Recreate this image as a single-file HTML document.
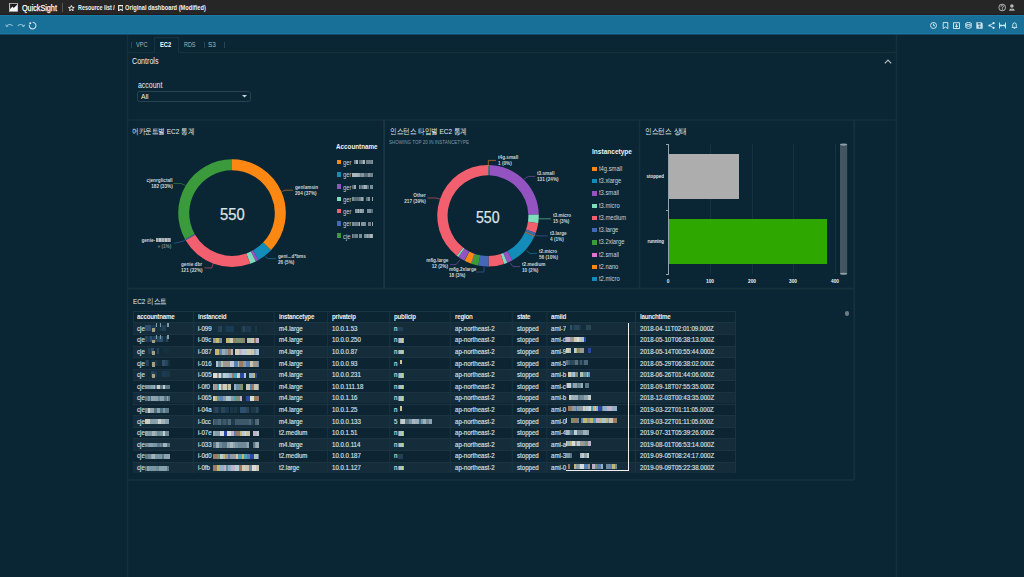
<!DOCTYPE html>
<html><head><meta charset="utf-8"><style>
*{margin:0;padding:0;box-sizing:border-box}
html,body{width:1024px;height:577px;overflow:hidden;background:#0a2634;font-family:"Liberation Sans",sans-serif;color:#e4e9ec}
body{position:relative}
.a{position:absolute}
.t{position:absolute;white-space:nowrap;line-height:1}
.hl{position:absolute;height:1px;background:#18323f}
.vl{position:absolute;width:1px;background:#18323f}
</style></head><body>
<div class="a" style="left:0;top:0;width:1024px;height:15px;background:#262626"></div><div class="a" style="left:0;top:14px;width:1024px;height:1px;background:#1e1c1c"></div><div class="a" style="left:0;top:15px;width:1024px;height:19px;background:#186f97"></div><div class="a" style="left:0;top:15px;width:1024px;height:1px;background:#1c7aa6"></div><div class="a" style="left:0;top:33px;width:1024px;height:1px;background:#1b75a0"></div><div class="a" style="left:0;top:34px;width:1024px;height:1px;background:#124c68"></div><svg class="a" style="left:8.9px;top:3px" width="8.8" height="8.6" viewBox="0 0 8.8 8.6"><rect width="8.8" height="8.6" fill="#f4f4f4"/><rect width="8.8" height="0.8" fill="#8c8c8c"/><rect width="1" height="8.6" fill="#b8b8b8"/><path d="M1.1,1.1 H8.1 V1.7 L7.1,2.7 L4.6,5.1 L3.6,3.5 L1.1,6.1Z" fill="#1c1c1c"/></svg><div id="m1" class="t" style="left:21.90px;top:4.00px;font-size:8.8px;color:#ffffff;transform:scaleX(0.8203);transform-origin:left 0;-webkit-text-stroke:0.25px #fff">QuickSight</div><div class="a" style="left:62px;top:3.1px;width:0.8px;height:9px;background:#555"></div><svg class="a" style="left:68.2px;top:4.6px" width="6.8" height="6.2" viewBox="0 0 10 9.2"><path d="M5,0.7 L6.2,3.4 L9.2,3.6 L6.9,5.5 L7.7,8.5 L5,6.9 L2.3,8.5 L3.1,5.5 L0.8,3.6 L3.8,3.4Z" fill="none" stroke="#fff" stroke-width="1.3"/></svg><div id="m2" class="t" style="left:77.70px;top:5.00px;font-size:6.93px;color:#f2f2f2;font-weight:bold;transform:scaleX(0.7796);transform-origin:left 0;">Resource list</div><div id="m3" class="t" style="left:113.40px;top:5.00px;font-size:6.93px;color:#f2f2f2;font-weight:bold;transform:scaleX(0.9091);transform-origin:left 0;">/</div><svg class="a" style="left:117.9px;top:5px" width="5.6" height="6.2" viewBox="0 0 5.6 6.2"><path d="M0.6,0.6 H5 V5.7 L2.8,4.3 L0.6,5.7Z" fill="none" stroke="#eee" stroke-width="1.1"/></svg><div id="m4" class="t" style="left:125.30px;top:5.00px;font-size:6.93px;color:#f2f2f2;font-weight:bold;transform:scaleX(0.8207);transform-origin:left 0;">Original dashboard (Modified)</div><svg class="a" style="left:996px;top:2px" width="24" height="12" viewBox="0 0 24 12"><circle cx="6.2" cy="5.5" r="3.7" fill="#a3a3a3"/><circle cx="6.2" cy="5.5" r="2.7" fill="#2e2e2e"/><path d="M4.9,4.6 Q5.2,3.3 6.4,3.4 Q7.6,3.6 7.4,4.7 Q7.2,5.4 6.3,5.8 V6.6" fill="none" stroke="#b0b0b0" stroke-width="1"/><circle cx="6.3" cy="7.6" r="0.55" fill="#b0b0b0"/><circle cx="15.9" cy="4.1" r="1.75" fill="#b8b8b8"/><path d="M12.9,8.8 Q13.3,6.2 15.9,6.2 Q18.5,6.2 18.9,8.8 Z" fill="#b0b0b0"/><path d="M15.2,6.3 L15.9,7.4 L16.6,6.3Z" fill="#262626"/></svg><svg class="a" style="left:0;top:15px" width="40" height="20" viewBox="0 0 40 20"><path d="M6.6,11.2 Q9.4,8 12.6,10.8" fill="none" stroke="#8dbdd6" stroke-width="1.1"/><path d="M5.8,9.6 L6.4,11.6 L8.3,11" fill="none" stroke="#8dbdd6" stroke-width="1"/><path d="M17.8,10.8 Q21,8 24,11.2" fill="none" stroke="#8dbdd6" stroke-width="1.1"/><path d="M22.1,11 L24,11.6 L24.6,9.6" fill="none" stroke="#8dbdd6" stroke-width="1"/><path d="M32.6,7.2 A3.35,3.35 0 1 1 29.35,9.7" fill="none" stroke="#c4dbe7" stroke-width="1.1"/><circle cx="30.3" cy="8.2" r="0.95" fill="#f4f9fb"/></svg><svg class="a" style="left:930.0px;top:21.5px" width="7" height="7" viewBox="0 0 7 7"><circle cx="3.5" cy="3.5" r="3" fill="none" stroke="#dfeef5" stroke-width="0.9"/><path d="M3.5,1.6 V3.7 H5" fill="none" stroke="#dfeef5" stroke-width="0.9"/></svg><svg class="a" style="left:941.5px;top:21.5px" width="7" height="7" viewBox="0 0 7 7"><path d="M1.2,0.6 H5.8 V6.6 L3.5,5 L1.2,6.6Z" fill="none" stroke="#dfeef5" stroke-width="0.9"/></svg><svg class="a" style="left:953.25px;top:21.5px" width="7" height="7" viewBox="0 0 7 7"><path d="M0.5,0.7 H6.5 V6.5 H0.5Z" fill="none" stroke="#dfeef5" stroke-width="0.9"/><path d="M3.5,1.8 V5.2 M2,3.8 L3.5,5.2 L5,3.8" fill="none" stroke="#dfeef5" stroke-width="0.9"/></svg><svg class="a" style="left:965.0px;top:21.5px" width="7" height="7" viewBox="0 0 7 7"><ellipse cx="3.5" cy="1.5" rx="2.7" ry="1" fill="none" stroke="#dfeef5" stroke-width="0.9"/><path d="M0.8,1.5 V5.6 Q3.5,7.3 6.2,5.6 V1.5 M0.8,3.5 Q3.5,5 6.2,3.5" fill="none" stroke="#dfeef5" stroke-width="0.9"/></svg><svg class="a" style="left:976.25px;top:21.5px" width="7" height="7" viewBox="0 0 7 7"><path d="M0.3,0.3 H5.5 L6.7,1.5 V6.7 H0.3Z" fill="#cfe1ea"/><rect x="1.8" y="0.9" width="2.8" height="1.8" fill="#2a7aa2"/><circle cx="3.6" cy="4.6" r="1.1" fill="#2a7aa2"/></svg><svg class="a" style="left:987.75px;top:21.5px" width="7" height="7" viewBox="0 0 7 7"><circle cx="1.4" cy="3.5" r="1.1" fill="#dfeef5"/><circle cx="5.6" cy="1.2" r="1.1" fill="#dfeef5"/><circle cx="5.6" cy="5.8" r="1.1" fill="#dfeef5"/><path d="M1.4,3.5 L5.6,1.2 M1.4,3.5 L5.6,5.8" stroke="#dfeef5" stroke-width="0.8"/></svg><svg class="a" style="left:999.0px;top:21.5px" width="7" height="7" viewBox="0 0 7 7"><path d="M0.5,0.5 V6.5 M6.5,0.5 V6.5 M1,3.5 H6 M2.3,2.2 L1,3.5 L2.3,4.8 M4.7,2.2 L6,3.5 L4.7,4.8" fill="none" stroke="#dfeef5" stroke-width="0.9"/></svg><svg class="a" style="left:1010.75px;top:21.5px" width="7" height="7" viewBox="0 0 7 7"><path d="M1,5.4 H6 L5.3,4.4 V2.8 Q5.3,0.9 3.5,0.9 Q1.7,0.9 1.7,2.8 V4.4Z" fill="none" stroke="#dfeef5" stroke-width="0.9"/><path d="M2.8,6.3 H4.2" stroke="#dfeef5" stroke-width="0.9"/></svg><svg class="a" style="left:0;top:0" width="1024" height="577"><rect x="126.9" y="35" width="1.3" height="542" fill="#17303d"/><rect x="895.8" y="35" width="1.4" height="542" fill="#17303d"/><rect x="128" y="51.9" width="768" height="1.2" fill="#17303d"/><rect x="128" y="119.3" width="768" height="1.4" fill="#17303d"/><rect x="383.1" y="120" width="1.9" height="168" fill="#1c3542"/><rect x="638.8" y="120" width="1.4" height="168" fill="#17303d"/><rect x="853.4" y="120" width="1.7" height="360" fill="#17303d"/><rect x="128" y="287.7" width="726" height="1.8" fill="#17303d"/><rect x="128" y="479.2" width="726" height="1.6" fill="#17303d"/></svg><div class="a" style="left:154.3px;top:36.6px;width:24.9px;height:16.4px;border:1px solid #18323f;border-bottom:none;background:#0a2634"></div><div class="a" style="left:130.5px;top:41.5px;width:1px;height:6px;background:#2a4452"></div><div class="a" style="left:203.5px;top:41.5px;width:1px;height:6px;background:#2a4452"></div><div class="a" style="left:223.5px;top:41.5px;width:1px;height:6px;background:#2a4452"></div><div id="m5" class="t" style="left:136.00px;top:41.00px;font-size:7.26px;color:#a9b6bd;transform:scaleX(0.7774);transform-origin:left 0;">VPC</div><div id="m6" class="t" style="left:160.30px;top:41.00px;font-size:7.26px;color:#ffffff;font-weight:bold;transform:scaleX(0.7938);transform-origin:left 0;">EC2</div><div id="m7" class="t" style="left:183.90px;top:41.00px;font-size:7.26px;color:#a9b6bd;transform:scaleX(0.7510);transform-origin:left 0;">RDS</div><div id="m8" class="t" style="left:208.00px;top:41.00px;font-size:7.26px;color:#a9b6bd;transform:scaleX(0.8789);transform-origin:left 0;">S3</div><div id="m9" class="t" style="left:131.80px;top:57.00px;font-size:8.91px;color:#f0f3f5;transform:scaleX(0.7989);transform-origin:left 0;">Controls</div><svg class="a" style="left:883.8px;top:58.8px" width="8" height="5" viewBox="0 0 8 5"><path d="M0.8,4.3 L4,1.1 L7.2,4.3" fill="none" stroke="#b3bec4" stroke-width="1.2"/></svg><div id="m10" class="t" style="left:137.80px;top:82.00px;font-size:8.25px;color:#e9eef0;transform:scaleX(0.8441);transform-origin:left 0;">account</div><div class="a" style="left:137.3px;top:90.6px;width:113.5px;height:11.6px;border:1px solid #2a4350;border-radius:2.5px"></div><div id="m11" class="t" style="left:141.40px;top:94.00px;font-size:6.6px;color:#e9eef0;transform:scaleX(1.0235);transform-origin:left 0;">All</div><svg class="a" style="left:241.5px;top:95.3px" width="5" height="3" viewBox="0 0 5 3"><path d="M0,0 H5 L2.5,2.6Z" fill="#c9d1d5"/></svg><div id="m12" class="t" style="left:132.40px;top:128.00px;font-size:7.8px;color:#e9eef0;transform:scaleX(0.8252);transform-origin:left 0;">어카운트별 EC2 통계</div><div id="m13" class="t" style="left:389.50px;top:128.00px;font-size:7.8px;color:#e9eef0;transform:scaleX(0.8220);transform-origin:left 0;">인스턴스 타입별 EC2 통계</div><div id="m14" class="t" style="left:389.30px;top:140.00px;font-size:5.06px;color:#7f99a6;transform:scaleX(0.8951);transform-origin:left 0;">SHOWING TOP 20 IN INSTANCETYPE</div><div id="m15" class="t" style="left:645.00px;top:128.00px;font-size:7.8px;color:#e9eef0;transform:scaleX(0.8371);transform-origin:left 0;">인스턴스 상태</div><svg class="a" style="left:0;top:0" width="1024" height="577" viewBox="0 0 1024 577"><path d="M232.00,159.30A53.8,53.8 0 0 1 271.01,250.15L263.03,242.58A42.8,42.8 0 0 0 232.00,170.30Z" fill="#fd8713"/><path d="M271.01,250.15A53.8,53.8 0 0 1 258.46,259.95L253.05,250.37A42.8,42.8 0 0 0 263.03,242.58Z" fill="#138cba"/><path d="M258.46,259.95A53.8,53.8 0 0 1 255.74,261.38L250.88,251.51A42.8,42.8 0 0 0 253.05,250.37Z" fill="#9354c2"/><path d="M255.74,261.38A53.8,53.8 0 0 1 250.08,263.77L246.38,253.41A42.8,42.8 0 0 0 250.88,251.51Z" fill="#7fdcbc"/><path d="M250.08,263.77A53.8,53.8 0 0 1 185.61,240.35L195.10,234.78A42.8,42.8 0 0 0 246.38,253.41Z" fill="#f25f6f"/><path d="M185.61,240.35A53.8,53.8 0 0 1 185.00,239.29L194.61,233.93A42.8,42.8 0 0 0 195.10,234.78Z" fill="#4468b7"/><path d="M185.00,239.29A53.8,53.8 0 0 1 232.00,159.30L232.00,170.30A42.8,42.8 0 0 0 194.61,233.93Z" fill="#3a9a3c"/><path d="M488.00,164.90A50.8,50.8 0 0 1 488.58,164.90L488.46,175.30A40.4,40.4 0 0 0 488.00,175.30Z" fill="#fd8713"/><path d="M488.58,164.90A50.8,50.8 0 0 1 489.74,164.93L489.38,175.32A40.4,40.4 0 0 0 488.46,175.30Z" fill="#138cba"/><path d="M489.74,164.93A50.8,50.8 0 0 1 538.79,214.54L528.39,214.78A40.4,40.4 0 0 0 489.38,175.32Z" fill="#9354c2"/><path d="M538.79,214.54A50.8,50.8 0 0 1 538.24,223.22L527.96,221.68A40.4,40.4 0 0 0 528.39,214.78Z" fill="#7fdcbc"/><path d="M538.24,223.22A50.8,50.8 0 0 1 535.75,233.04L525.97,229.49A40.4,40.4 0 0 0 527.96,221.68Z" fill="#f25f6f"/><path d="M535.75,233.04A50.8,50.8 0 0 1 534.91,235.21L525.30,231.21A40.4,40.4 0 0 0 525.97,229.49Z" fill="#4468b7"/><path d="M534.91,235.21A50.8,50.8 0 0 1 534.68,235.74L525.12,231.64A40.4,40.4 0 0 0 525.30,231.21Z" fill="#3a9a3c"/><path d="M534.68,235.74A50.8,50.8 0 0 1 534.45,236.27L524.94,232.06A40.4,40.4 0 0 0 525.12,231.64Z" fill="#e274d0"/><path d="M534.45,236.27A50.8,50.8 0 0 1 534.21,236.80L524.75,232.48A40.4,40.4 0 0 0 524.94,232.06Z" fill="#fd8713"/><path d="M534.21,236.80A50.8,50.8 0 0 1 512.47,260.22L507.46,251.10A40.4,40.4 0 0 0 524.75,232.48Z" fill="#138cba"/><path d="M512.47,260.22A50.8,50.8 0 0 1 507.24,262.72L503.30,253.09A40.4,40.4 0 0 0 507.46,251.10Z" fill="#9354c2"/><path d="M507.24,262.72A50.8,50.8 0 0 1 503.97,263.92L500.70,254.05A40.4,40.4 0 0 0 503.30,253.09Z" fill="#7fdcbc"/><path d="M503.97,263.92A50.8,50.8 0 0 1 488.58,266.50L488.46,256.10A40.4,40.4 0 0 0 500.70,254.05Z" fill="#f25f6f"/><path d="M488.58,266.50A50.8,50.8 0 0 1 478.20,265.55L480.20,255.34A40.4,40.4 0 0 0 488.46,256.10Z" fill="#4468b7"/><path d="M478.20,265.55A50.8,50.8 0 0 1 471.48,263.74L474.86,253.90A40.4,40.4 0 0 0 480.20,255.34Z" fill="#3a9a3c"/><path d="M471.48,263.74A50.8,50.8 0 0 1 470.93,263.55L474.42,253.75A40.4,40.4 0 0 0 474.86,253.90Z" fill="#e274d0"/><path d="M470.93,263.55A50.8,50.8 0 0 1 464.55,260.76L469.35,251.54A40.4,40.4 0 0 0 474.42,253.75Z" fill="#fd8713"/><path d="M464.55,260.76A50.8,50.8 0 0 1 464.24,260.60L469.11,251.41A40.4,40.4 0 0 0 469.35,251.54Z" fill="#138cba"/><path d="M464.24,260.60A50.8,50.8 0 0 1 458.33,256.93L464.40,248.49A40.4,40.4 0 0 0 469.11,251.41Z" fill="#9354c2"/><path d="M458.33,256.93A50.8,50.8 0 0 1 456.75,255.75L463.15,247.55A40.4,40.4 0 0 0 464.40,248.49Z" fill="#7fdcbc"/><path d="M456.75,255.75A50.8,50.8 0 0 1 488.00,164.90L488.00,175.30A40.4,40.4 0 0 0 463.15,247.55Z" fill="#f25f6f"/><polyline points="185.5,185.5 181,183.5 173.5,183.5" fill="none" stroke="#3a9a3c" stroke-width="0.8" stroke-opacity="0.7"/><polyline points="185.6,239.6 183,241.2 180,242 173.6,243.4" fill="none" stroke="#4468b7" stroke-width="0.8" stroke-opacity="0.7"/><polyline points="282.4,191.5 285,190.2 293,190.2" fill="none" stroke="#fd8713" stroke-width="0.8" stroke-opacity="0.7"/><polyline points="265.2,256.7 268,258.6 276,258.6" fill="none" stroke="#138cba" stroke-width="0.8" stroke-opacity="0.7"/><polyline points="213.3,263.4 211.8,267.9 204.5,267.9" fill="none" stroke="#f25f6f" stroke-width="0.8" stroke-opacity="0.7"/><polyline points="488.3,166 488.3,160.4 496,160.4" fill="none" stroke="#fd8713" stroke-width="0.8" stroke-opacity="0.7"/><polyline points="524.2,179 528.5,176.4 535.4,176.4" fill="none" stroke="#9354c2" stroke-width="0.8" stroke-opacity="0.7"/><polyline points="538.9,218.8 551,218.8" fill="none" stroke="#7fdcbc" stroke-width="0.8" stroke-opacity="0.7"/><polyline points="535.2,235.1 538,235.9 548,235.9" fill="none" stroke="#4468b7" stroke-width="0.8" stroke-opacity="0.7"/><polyline points="526.4,250.5 530,253.4 537,253.4" fill="none" stroke="#138cba" stroke-width="0.8" stroke-opacity="0.7"/><polyline points="510.3,263 513,266.6 520,266.6" fill="none" stroke="#9354c2" stroke-width="0.8" stroke-opacity="0.7"/><polyline points="484,267.4 484,272 476,272" fill="none" stroke="#4468b7" stroke-width="0.8" stroke-opacity="0.7"/><polyline points="460,260 456,264.6 450,264.6" fill="none" stroke="#9354c2" stroke-width="0.8" stroke-opacity="0.7"/><polyline points="440.3,199.1 436,198 427.4,198" fill="none" stroke="#f25f6f" stroke-width="0.8" stroke-opacity="0.7"/></svg><div id="m16" class="t" style="left:219.80px;top:207.00px;font-size:15.6px;color:#dde3e7;transform:scaleX(0.9450);transform-origin:left 0;-webkit-text-stroke:0.25px #dde3e7">550</div><div id="m17" class="t" style="left:476.20px;top:210.00px;font-size:15.6px;color:#dde3e7;transform:scaleX(0.9066);transform-origin:left 0;-webkit-text-stroke:0.25px #dde3e7">550</div><div id="m18" class="t" style="right:851.00px;top:178.00px;font-size:5.17px;color:#cdd5d9;font-weight:bold;transform:scaleX(0.9091);transform-origin:right 0;">cjenrglictall</div><div id="m19" class="t" style="right:851.00px;top:184.00px;font-size:5.17px;color:#cdd5d9;font-weight:bold;transform:scaleX(0.9091);transform-origin:right 0;">182 (33%)</div><div id="m20" class="t" style="right:869.00px;top:238.00px;font-size:5.17px;color:#cdd5d9;font-weight:bold;transform:scaleX(0.9091);transform-origin:right 0;">genie-</div><div class="a" style="left:155.7px;top:237.6px;width:15.5px;height:4.6px;background:repeating-linear-gradient(90deg,#a7b1b6 0 2px,#7f8d95 2px 3px,#b9c1c5 3px 5px,#8d9aa1 5px 6px)"></div><div id="m21" class="t" style="right:852.80px;top:244.00px;font-size:5.17px;color:#7d8b93;font-weight:bold;transform:scaleX(0.9091);transform-origin:right 0;">+ (1%)</div><div id="m22" class="t" style="left:295.00px;top:185.00px;font-size:5.17px;color:#cdd5d9;font-weight:bold;transform:scaleX(0.9091);transform-origin:left 0;">genlamsin</div><div id="m23" class="t" style="left:295.00px;top:191.00px;font-size:5.17px;color:#cdd5d9;font-weight:bold;transform:scaleX(0.9091);transform-origin:left 0;">204 (37%)</div><div id="m24" class="t" style="left:277.60px;top:254.00px;font-size:5.17px;color:#cdd5d9;font-weight:bold;transform:scaleX(0.9091);transform-origin:left 0;">geni...d*bms</div><div id="m25" class="t" style="left:277.60px;top:260.00px;font-size:5.17px;color:#cdd5d9;font-weight:bold;transform:scaleX(0.9091);transform-origin:left 0;">26 (5%)</div><div id="m26" class="t" style="left:180.50px;top:262.00px;font-size:5.17px;color:#cdd5d9;font-weight:bold;transform:scaleX(0.9091);transform-origin:left 0;">genie dbr</div><div id="m27" class="t" style="left:180.50px;top:268.00px;font-size:5.17px;color:#cdd5d9;font-weight:bold;transform:scaleX(0.9091);transform-origin:left 0;">121 (22%)</div><div id="m28" class="t" style="left:498.20px;top:155.00px;font-size:5.17px;color:#cdd5d9;font-weight:bold;transform:scaleX(0.9091);transform-origin:left 0;">t4g.small</div><div id="m29" class="t" style="left:498.20px;top:161.00px;font-size:5.17px;color:#cdd5d9;font-weight:bold;transform:scaleX(0.9091);transform-origin:left 0;">1 (0%)</div><div id="m30" class="t" style="left:537.20px;top:171.00px;font-size:5.17px;color:#cdd5d9;font-weight:bold;transform:scaleX(0.9091);transform-origin:left 0;">t3.small</div><div id="m31" class="t" style="left:537.20px;top:177.00px;font-size:5.17px;color:#cdd5d9;font-weight:bold;transform:scaleX(0.9091);transform-origin:left 0;">131 (24%)</div><div id="m32" class="t" style="left:552.80px;top:213.00px;font-size:5.17px;color:#cdd5d9;font-weight:bold;transform:scaleX(0.9091);transform-origin:left 0;">t3.micro</div><div id="m33" class="t" style="left:552.80px;top:219.00px;font-size:5.17px;color:#cdd5d9;font-weight:bold;transform:scaleX(0.9091);transform-origin:left 0;">15 (3%)</div><div id="m34" class="t" style="left:550.00px;top:231.00px;font-size:5.17px;color:#cdd5d9;font-weight:bold;transform:scaleX(0.9091);transform-origin:left 0;">t3.large</div><div id="m35" class="t" style="left:550.00px;top:237.00px;font-size:5.17px;color:#cdd5d9;font-weight:bold;transform:scaleX(0.9091);transform-origin:left 0;">4 (1%)</div><div id="m36" class="t" style="left:538.90px;top:249.00px;font-size:5.17px;color:#cdd5d9;font-weight:bold;transform:scaleX(0.9091);transform-origin:left 0;">t2.micro</div><div id="m37" class="t" style="left:538.90px;top:255.00px;font-size:5.17px;color:#cdd5d9;font-weight:bold;transform:scaleX(0.9091);transform-origin:left 0;">56 (10%)</div><div id="m38" class="t" style="left:522.00px;top:262.00px;font-size:5.17px;color:#cdd5d9;font-weight:bold;transform:scaleX(0.9091);transform-origin:left 0;">t2.medium</div><div id="m39" class="t" style="left:522.00px;top:268.00px;font-size:5.17px;color:#cdd5d9;font-weight:bold;transform:scaleX(0.9091);transform-origin:left 0;">10 (2%)</div><div id="m40" class="t" style="right:575.50px;top:258.00px;font-size:5.17px;color:#cdd5d9;font-weight:bold;transform:scaleX(0.9091);transform-origin:right 0;">m6g.large</div><div id="m41" class="t" style="right:575.50px;top:264.00px;font-size:5.17px;color:#cdd5d9;font-weight:bold;transform:scaleX(0.9091);transform-origin:right 0;">12 (2%)</div><div id="m42" class="t" style="left:449.00px;top:267.00px;font-size:5.17px;color:#cdd5d9;font-weight:bold;transform:scaleX(0.9091);transform-origin:left 0;">m6g.2xlarge</div><div id="m43" class="t" style="left:449.00px;top:273.00px;font-size:5.17px;color:#cdd5d9;font-weight:bold;transform:scaleX(0.9091);transform-origin:left 0;">18 (3%)</div><div id="m44" class="t" style="right:598.40px;top:193.00px;font-size:5.17px;color:#cdd5d9;font-weight:bold;transform:scaleX(0.9091);transform-origin:right 0;">Other</div><div id="m45" class="t" style="right:598.40px;top:199.00px;font-size:5.17px;color:#cdd5d9;font-weight:bold;transform:scaleX(0.9091);transform-origin:right 0;">217 (39%)</div><div id="m46" class="t" style="left:336.40px;top:144.00px;font-size:6.93px;color:#eef2f4;font-weight:bold;transform:scaleX(0.9087);transform-origin:left 0;">Accountname</div><div class="a" style="left:336.8px;top:159.8px;width:4.5px;height:4.5px;background:#fd8713"></div><div id="m47" class="t" style="left:343.30px;top:160.00px;font-size:6.49px;color:#c6cfd4;transform:scaleX(0.9091);transform-origin:left 0;">ger</div><div class="a" style="left:353.5px;top:160.4px;width:2px;height:4px;background:#6f808a"></div><div class="a" style="left:355.5px;top:160.4px;width:2.5px;height:4px;background:#aab6bc"></div><div class="a" style="left:359.0px;top:160.4px;width:1.5px;height:4px;background:#5a6c77"></div><div class="a" style="left:360.5px;top:160.4px;width:2px;height:4px;background:#6f808a"></div><div class="a" style="left:362.5px;top:160.4px;width:2.5px;height:4px;background:#aab6bc"></div><div class="a" style="left:366.0px;top:160.4px;width:3px;height:4px;background:#6f808a"></div><div class="a" style="left:369.0px;top:160.4px;width:2.5px;height:4px;background:#6f808a"></div><div class="a" style="left:371.5px;top:160.4px;width:1.0px;height:4px;background:#85959e"></div><div class="a" style="left:336.8px;top:172.1px;width:4.5px;height:4.5px;background:#138cba"></div><div id="m48" class="t" style="left:343.30px;top:172.00px;font-size:6.49px;color:#c6cfd4;transform:scaleX(0.9091);transform-origin:left 0;">ger</div><div class="a" style="left:351.5px;top:172.65px;width:2px;height:4px;background:#aab6bc"></div><div class="a" style="left:353.5px;top:172.65px;width:1px;height:4px;background:#aab6bc"></div><div class="a" style="left:354.5px;top:172.65px;width:3px;height:4px;background:#aab6bc"></div><div class="a" style="left:357.5px;top:172.65px;width:2.5px;height:4px;background:#9aa8b0"></div><div class="a" style="left:360.0px;top:172.65px;width:1px;height:4px;background:#6f808a"></div><div class="a" style="left:361.0px;top:172.65px;width:2.5px;height:4px;background:#85959e"></div><div class="a" style="left:363.5px;top:172.65px;width:2px;height:4px;background:#5a6c77"></div><div class="a" style="left:365.5px;top:172.65px;width:2px;height:4px;background:#5a6c77"></div><div class="a" style="left:367.5px;top:172.65px;width:2px;height:4px;background:#85959e"></div><div class="a" style="left:369.5px;top:172.65px;width:3px;height:4px;background:#6f808a"></div><div class="a" style="left:336.8px;top:184.3px;width:4.5px;height:4.5px;background:#9354c2"></div><div id="m49" class="t" style="left:343.30px;top:185.00px;font-size:6.49px;color:#c6cfd4;transform:scaleX(0.9091);transform-origin:left 0;">ger</div><div class="a" style="left:351.5px;top:184.9px;width:2.5px;height:4px;background:#5a6c77"></div><div class="a" style="left:354.0px;top:184.9px;width:2px;height:4px;background:#9aa8b0"></div><div class="a" style="left:358.5px;top:184.9px;width:1px;height:4px;background:#85959e"></div><div class="a" style="left:359.5px;top:184.9px;width:2px;height:4px;background:#5a6c77"></div><div class="a" style="left:361.5px;top:184.9px;width:2px;height:4px;background:#77909b"></div><div class="a" style="left:363.5px;top:184.9px;width:1px;height:4px;background:#aab6bc"></div><div class="a" style="left:364.5px;top:184.9px;width:2px;height:4px;background:#9aa8b0"></div><div class="a" style="left:366.5px;top:184.9px;width:2.5px;height:4px;background:#5a6c77"></div><div class="a" style="left:370.0px;top:184.9px;width:2px;height:4px;background:#77909b"></div><div class="a" style="left:372.0px;top:184.9px;width:0.5px;height:4px;background:#77909b"></div><div class="a" style="left:336.8px;top:196.6px;width:4.5px;height:4.5px;background:#7fdcbc"></div><div id="m50" class="t" style="left:343.30px;top:197.00px;font-size:6.49px;color:#c6cfd4;transform:scaleX(0.9091);transform-origin:left 0;">ger</div><div class="a" style="left:351.5px;top:197.15px;width:2px;height:4px;background:#77909b"></div><div class="a" style="left:353.5px;top:197.15px;width:2px;height:4px;background:#5a6c77"></div><div class="a" style="left:355.5px;top:197.15px;width:3px;height:4px;background:#5a6c77"></div><div class="a" style="left:358.5px;top:197.15px;width:2px;height:4px;background:#6f808a"></div><div class="a" style="left:360.5px;top:197.15px;width:2px;height:4px;background:#9aa8b0"></div><div class="a" style="left:362.5px;top:197.15px;width:1.5px;height:4px;background:#5a6c77"></div><div class="a" style="left:366.0px;top:197.15px;width:2px;height:4px;background:#5a6c77"></div><div class="a" style="left:368.0px;top:197.15px;width:2px;height:4px;background:#85959e"></div><div class="a" style="left:372.0px;top:197.15px;width:0.5px;height:4px;background:#9aa8b0"></div><div class="a" style="left:336.8px;top:208.8px;width:4.5px;height:4.5px;background:#f25f6f"></div><div id="m51" class="t" style="left:343.30px;top:209.00px;font-size:6.49px;color:#c6cfd4;transform:scaleX(0.9091);transform-origin:left 0;">ger</div><div class="a" style="left:354.5px;top:209.4px;width:1.5px;height:4px;background:#85959e"></div><div class="a" style="left:356.0px;top:209.4px;width:1.5px;height:4px;background:#85959e"></div><div class="a" style="left:357.5px;top:209.4px;width:1px;height:4px;background:#aab6bc"></div><div class="a" style="left:358.5px;top:209.4px;width:1.5px;height:4px;background:#6f808a"></div><div class="a" style="left:360.0px;top:209.4px;width:1.5px;height:4px;background:#9aa8b0"></div><div class="a" style="left:361.5px;top:209.4px;width:2.5px;height:4px;background:#85959e"></div><div class="a" style="left:367.0px;top:209.4px;width:2.5px;height:4px;background:#77909b"></div><div class="a" style="left:369.5px;top:209.4px;width:1px;height:4px;background:#77909b"></div><div class="a" style="left:370.5px;top:209.4px;width:2.0px;height:4px;background:#5a6c77"></div><div class="a" style="left:336.8px;top:221.1px;width:4.5px;height:4.5px;background:#4468b7"></div><div id="m52" class="t" style="left:343.30px;top:221.00px;font-size:6.49px;color:#c6cfd4;transform:scaleX(0.9091);transform-origin:left 0;">ger</div><div class="a" style="left:351.5px;top:221.65px;width:2px;height:4px;background:#77909b"></div><div class="a" style="left:353.5px;top:221.65px;width:2px;height:4px;background:#6f808a"></div><div class="a" style="left:355.5px;top:221.65px;width:1.5px;height:4px;background:#6f808a"></div><div class="a" style="left:357.0px;top:221.65px;width:2px;height:4px;background:#6f808a"></div><div class="a" style="left:359.0px;top:221.65px;width:1px;height:4px;background:#aab6bc"></div><div class="a" style="left:361.0px;top:221.65px;width:2.5px;height:4px;background:#85959e"></div><div class="a" style="left:363.5px;top:221.65px;width:2.5px;height:4px;background:#77909b"></div><div class="a" style="left:368.0px;top:221.65px;width:2.5px;height:4px;background:#6f808a"></div><div class="a" style="left:371.5px;top:221.65px;width:1.0px;height:4px;background:#9aa8b0"></div><div class="a" style="left:336.8px;top:233.3px;width:4.5px;height:4.5px;background:#3a9a3c"></div><div id="m53" class="t" style="left:343.30px;top:234.00px;font-size:6.49px;color:#c6cfd4;transform:scaleX(0.9091);transform-origin:left 0;">cje</div><div class="a" style="left:351.5px;top:233.9px;width:1px;height:4px;background:#77909b"></div><div class="a" style="left:352.5px;top:233.9px;width:2px;height:4px;background:#5a6c77"></div><div class="a" style="left:354.5px;top:233.9px;width:3px;height:4px;background:#6f808a"></div><div class="a" style="left:359.0px;top:233.9px;width:2.5px;height:4px;background:#77909b"></div><div class="a" style="left:364.0px;top:233.9px;width:2.5px;height:4px;background:#77909b"></div><div class="a" style="left:366.5px;top:233.9px;width:1px;height:4px;background:#9aa8b0"></div><div class="a" style="left:367.5px;top:233.9px;width:2.5px;height:4px;background:#85959e"></div><div class="a" style="left:370.0px;top:233.9px;width:2px;height:4px;background:#aab6bc"></div><div class="a" style="left:372.0px;top:233.9px;width:0.5px;height:4px;background:#9aa8b0"></div><div id="m54" class="t" style="left:592.30px;top:149.00px;font-size:6.93px;color:#eef2f4;font-weight:bold;transform:scaleX(0.9450);transform-origin:left 0;">Instancetype</div><div class="a" style="left:592.3px;top:166.8px;width:4.4px;height:4.4px;background:#fd8713"></div><div id="m55" class="t" style="left:599.30px;top:166.00px;font-size:6.38px;color:#cbd3d8;transform:scaleX(0.9091);transform-origin:left 0;">t4g.small</div><div class="a" style="left:592.3px;top:179.1px;width:4.4px;height:4.4px;background:#138cba"></div><div id="m56" class="t" style="left:599.30px;top:178.00px;font-size:6.38px;color:#cbd3d8;transform:scaleX(0.9091);transform-origin:left 0;">t3.xlarge</div><div class="a" style="left:592.3px;top:191.3px;width:4.4px;height:4.4px;background:#9354c2"></div><div id="m57" class="t" style="left:599.30px;top:190.00px;font-size:6.38px;color:#cbd3d8;transform:scaleX(0.9091);transform-origin:left 0;">t3.small</div><div class="a" style="left:592.3px;top:203.6px;width:4.4px;height:4.4px;background:#7fdcbc"></div><div id="m58" class="t" style="left:599.30px;top:203.00px;font-size:6.38px;color:#cbd3d8;transform:scaleX(0.9091);transform-origin:left 0;">t3.micro</div><div class="a" style="left:592.3px;top:215.8px;width:4.4px;height:4.4px;background:#f25f6f"></div><div id="m59" class="t" style="left:599.30px;top:215.00px;font-size:6.38px;color:#cbd3d8;transform:scaleX(0.9091);transform-origin:left 0;">t3.medium</div><div class="a" style="left:592.3px;top:228.1px;width:4.4px;height:4.4px;background:#4468b7"></div><div id="m60" class="t" style="left:599.30px;top:227.00px;font-size:6.38px;color:#cbd3d8;transform:scaleX(0.9091);transform-origin:left 0;">t3.large</div><div class="a" style="left:592.3px;top:240.3px;width:4.4px;height:4.4px;background:#3a9a3c"></div><div id="m61" class="t" style="left:599.30px;top:239.00px;font-size:6.38px;color:#cbd3d8;transform:scaleX(0.9091);transform-origin:left 0;">t3.2xlarge</div><div class="a" style="left:592.3px;top:252.6px;width:4.4px;height:4.4px;background:#e274d0"></div><div id="m62" class="t" style="left:599.30px;top:252.00px;font-size:6.38px;color:#cbd3d8;transform:scaleX(0.9091);transform-origin:left 0;">t2.small</div><div class="a" style="left:592.3px;top:264.8px;width:4.4px;height:4.4px;background:#fd8713"></div><div id="m63" class="t" style="left:599.30px;top:264.00px;font-size:6.38px;color:#cbd3d8;transform:scaleX(0.9091);transform-origin:left 0;">t2.nano</div><div class="a" style="left:592.3px;top:277.1px;width:4.4px;height:4.4px;background:#138cba"></div><div id="m64" class="t" style="left:599.30px;top:276.00px;font-size:6.38px;color:#cbd3d8;transform:scaleX(0.9091);transform-origin:left 0;">t2.micro</div><div class="a" style="left:709.7px;top:144px;width:0.6px;height:130px;background:#17323f"></div><div class="a" style="left:751.8px;top:144px;width:0.6px;height:130px;background:#17323f"></div><div class="a" style="left:793.4px;top:144px;width:0.6px;height:130px;background:#17323f"></div><div class="a" style="left:835px;top:144px;width:0.6px;height:130px;background:#17323f"></div><div class="a" style="left:668.6px;top:154.3px;width:70.2px;height:45px;background:#adadad"></div><div class="a" style="left:668.6px;top:218.8px;width:158.7px;height:45.5px;background:#2ea800"></div><div class="a" style="left:667.6px;top:144px;width:1px;height:131px;background:#95a3ab"></div><div class="a" style="left:665.6px;top:144px;width:2.5px;height:0.8px;background:#95a3ab"></div><div class="a" style="left:665.6px;top:209.5px;width:2.5px;height:0.8px;background:#95a3ab"></div><div class="a" style="left:665.6px;top:274px;width:2.5px;height:0.8px;background:#95a3ab"></div><div id="m65" class="t" style="right:360.20px;top:174.00px;font-size:5.39px;color:#e6ebee;font-weight:bold;transform:scaleX(0.8275);transform-origin:right 0;">stopped</div><div id="m66" class="t" style="right:360.20px;top:239.00px;font-size:5.39px;color:#e6ebee;font-weight:bold;transform:scaleX(0.8244);transform-origin:right 0;">running</div><div id="m67" class="t" style="left:618.00px;width:100px;text-align:center;top:279.00px;font-size:5.28px;color:#eef2f4;font-weight:bold;transform:scaleX(0.9091);transform-origin:50% 0;">0</div><div id="m68" class="t" style="left:659.70px;width:100px;text-align:center;top:279.00px;font-size:5.28px;color:#eef2f4;font-weight:bold;transform:scaleX(0.9091);transform-origin:50% 0;">100</div><div id="m69" class="t" style="left:701.80px;width:100px;text-align:center;top:279.00px;font-size:5.28px;color:#eef2f4;font-weight:bold;transform:scaleX(0.9091);transform-origin:50% 0;">200</div><div id="m70" class="t" style="left:743.40px;width:100px;text-align:center;top:279.00px;font-size:5.28px;color:#eef2f4;font-weight:bold;transform:scaleX(0.9091);transform-origin:50% 0;">300</div><div id="m71" class="t" style="left:785.00px;width:100px;text-align:center;top:279.00px;font-size:5.28px;color:#eef2f4;font-weight:bold;transform:scaleX(0.9091);transform-origin:50% 0;">400</div><svg class="a" style="left:836px;top:140px" width="16" height="140"><rect x="3.7" y="4.2" width="7.6" height="130.6" fill="#0a1f2b" opacity="0.6"/><rect x="4" y="4.6" width="7.2" height="129.4" fill="#43555e"/><ellipse cx="7.6" cy="4.6" rx="3.6" ry="1.05" fill="#8d9ea7"/><ellipse cx="7.6" cy="133.8" rx="3.6" ry="1.05" fill="#8d9ea7"/></svg><div id="m72" class="t" style="left:132.50px;top:298.00px;font-size:7.8px;color:#e9eef0;transform:scaleX(0.8103);transform-origin:left 0;">EC2 리스트</div><div class="a" style="left:845.2px;top:310.8px;width:4px;height:5.2px;border-radius:2px;background:#6d7c84"></div><div class="a" style="left:132.5px;top:311px;width:603.0px;height:162.1px;background:#0c2533;border:0.8px solid #1a3441"></div><div id="m73" class="t" style="left:137.00px;top:314.00px;font-size:6.82px;color:#eef2f4;font-weight:bold;transform:scaleX(0.9091);transform-origin:left 0;letter-spacing:-0.25px">accountname</div><div id="m74" class="t" style="left:198.00px;top:314.00px;font-size:6.82px;color:#eef2f4;font-weight:bold;transform:scaleX(0.9091);transform-origin:left 0;letter-spacing:-0.25px">instanceid</div><div id="m75" class="t" style="left:278.70px;top:314.00px;font-size:6.82px;color:#eef2f4;font-weight:bold;transform:scaleX(0.9091);transform-origin:left 0;letter-spacing:-0.25px">instancetype</div><div id="m76" class="t" style="left:332.10px;top:314.00px;font-size:6.82px;color:#eef2f4;font-weight:bold;transform:scaleX(0.9091);transform-origin:left 0;letter-spacing:-0.25px">privateip</div><div id="m77" class="t" style="left:394.20px;top:314.00px;font-size:6.82px;color:#eef2f4;font-weight:bold;transform:scaleX(0.9091);transform-origin:left 0;letter-spacing:-0.25px">publicip</div><div id="m78" class="t" style="left:454.80px;top:314.00px;font-size:6.82px;color:#eef2f4;font-weight:bold;transform:scaleX(0.9091);transform-origin:left 0;letter-spacing:-0.25px">region</div><div id="m79" class="t" style="left:516.70px;top:314.00px;font-size:6.82px;color:#eef2f4;font-weight:bold;transform:scaleX(0.9091);transform-origin:left 0;letter-spacing:-0.25px">state</div><div id="m80" class="t" style="left:551.40px;top:314.00px;font-size:6.82px;color:#eef2f4;font-weight:bold;transform:scaleX(0.9091);transform-origin:left 0;letter-spacing:-0.25px">amiid</div><div id="m81" class="t" style="left:640.00px;top:314.00px;font-size:6.82px;color:#eef2f4;font-weight:bold;transform:scaleX(0.9091);transform-origin:left 0;letter-spacing:-0.25px">launchtime</div><div class="a" style="left:133.3px;top:322.30px;width:601.4px;height:11.6px;background:#152d3a;border-top:0.8px solid #1a3441"></div><div id="m82" class="t" style="left:136.80px;top:326.00px;font-size:6.71px;color:#d9e0e4;transform:scaleX(0.9091);transform-origin:left 0;-webkit-text-stroke:0.15px #d9e0e4">cje</div><div id="m83" class="t" style="left:197.80px;top:326.00px;font-size:6.71px;color:#d9e0e4;transform:scaleX(0.9091);transform-origin:left 0;-webkit-text-stroke:0.15px #d9e0e4">i-099</div><div id="m84" class="t" style="left:278.50px;top:326.00px;font-size:6.71px;color:#d9e0e4;transform:scaleX(0.9091);transform-origin:left 0;-webkit-text-stroke:0.15px #d9e0e4">m4.large</div><div id="m85" class="t" style="left:331.90px;top:326.00px;font-size:6.71px;color:#d9e0e4;transform:scaleX(0.9091);transform-origin:left 0;-webkit-text-stroke:0.15px #d9e0e4">10.0.1.53</div><div id="m86" class="t" style="left:394.00px;top:326.00px;font-size:6.71px;color:#d9e0e4;transform:scaleX(0.9091);transform-origin:left 0;-webkit-text-stroke:0.15px #d9e0e4">n</div><div id="m87" class="t" style="left:454.60px;top:326.00px;font-size:6.71px;color:#d9e0e4;transform:scaleX(0.9091);transform-origin:left 0;-webkit-text-stroke:0.15px #d9e0e4">ap-northeast-2</div><div id="m88" class="t" style="left:516.50px;top:326.00px;font-size:6.71px;color:#d9e0e4;transform:scaleX(0.9091);transform-origin:left 0;-webkit-text-stroke:0.15px #d9e0e4">stopped</div><div id="m89" class="t" style="left:551.20px;top:326.00px;font-size:6.71px;color:#d9e0e4;transform:scaleX(0.9091);transform-origin:left 0;-webkit-text-stroke:0.15px #d9e0e4">ami-7</div><div id="m90" class="t" style="left:639.80px;top:326.00px;font-size:6.71px;color:#d9e0e4;transform:scaleX(0.9091);transform-origin:left 0;-webkit-text-stroke:0.15px #d9e0e4">2018-04-11T02:01:09.000Z</div><div class="a" style="left:144.6px;top:324.8px;width:4px;height:6px;background:#2d5070"></div><div class="a" style="left:148.6px;top:324.8px;width:2px;height:6px;background:#2d5070"></div><div class="a" style="left:150.6px;top:324.8px;width:3px;height:6px;background:#1b3848"></div><div class="a" style="left:153.6px;top:324.8px;width:2px;height:6px;background:#22405a"></div><div class="a" style="left:155.6px;top:324.8px;width:4px;height:6px;background:#15303f"></div><div class="a" style="left:159.6px;top:324.8px;width:2.5px;height:6px;background:#1b3848"></div><div class="a" style="left:162.1px;top:324.8px;width:4px;height:6px;background:#22405a"></div><div class="a" style="left:166.1px;top:324.8px;width:3px;height:6px;background:#132c3a"></div><div class="a" style="left:152px;top:328.3px;width:3.4px;height:3.6px;background:#a89e80"></div><div class="a" style="left:155.6px;top:323.3px;width:1.4px;height:4px;background:#7d9aa8"></div><div class="a" style="left:160px;top:323.3px;width:1.4px;height:4px;background:#7d9aa8"></div><div class="a" style="left:167.3px;top:323.3px;width:1.4px;height:4px;background:#7d9aa8"></div><div class="a" style="left:215.0px;top:326.2px;width:2.5px;height:5.5px;background:#15303f"></div><div class="a" style="left:217.5px;top:326.2px;width:2px;height:5.5px;background:#22405a"></div><div class="a" style="left:219.5px;top:326.2px;width:2px;height:5.5px;background:#2a4656"></div><div class="a" style="left:221.5px;top:326.2px;width:1.5px;height:5.5px;background:#132c3a"></div><div class="a" style="left:223.0px;top:326.2px;width:2.5px;height:5.5px;background:#15303f"></div><div class="a" style="left:225.5px;top:326.2px;width:4px;height:5.5px;background:#1a3a55"></div><div class="a" style="left:229.5px;top:326.2px;width:4px;height:5.5px;background:#1a3a55"></div><div class="a" style="left:233.5px;top:326.2px;width:2px;height:5.5px;background:#132c3a"></div><div class="a" style="left:235.5px;top:326.2px;width:2.5px;height:5.5px;background:#132c3a"></div><div class="a" style="left:238.0px;top:326.2px;width:3px;height:5.5px;background:#132c3a"></div><div class="a" style="left:241.0px;top:326.2px;width:1.5px;height:5.5px;background:#1b3848"></div><div class="a" style="left:242.5px;top:326.2px;width:2px;height:5.5px;background:#2a4656"></div><div class="a" style="left:244.5px;top:326.2px;width:3px;height:5.5px;background:#1b3848"></div><div class="a" style="left:247.5px;top:326.2px;width:3.5px;height:5.5px;background:#1a3a55"></div><div class="a" style="left:255.0px;top:326.2px;width:2px;height:5.5px;background:#1b3848"></div><div class="a" style="left:257.0px;top:326.2px;width:1.5px;height:5.5px;background:#132c3a"></div><div class="a" style="left:398px;top:326.8px;width:5px;height:4.5px;background:#22404f"></div><div class="a" style="left:565.5px;top:325.1px;width:4px;height:5px;background:#132c3a"></div><div class="a" style="left:569.5px;top:325.1px;width:2px;height:5px;background:#2d5070"></div><div class="a" style="left:571.5px;top:325.1px;width:2px;height:5px;background:#1b3848"></div><div class="a" style="left:573.5px;top:325.1px;width:1.5px;height:5px;background:#22405a"></div><div class="a" style="left:575.0px;top:325.1px;width:3.5px;height:5px;background:#2a4656"></div><div class="a" style="left:578.5px;top:325.1px;width:2.5px;height:5px;background:#1a3a55"></div><div class="a" style="left:581.0px;top:325.1px;width:2px;height:5px;background:#132c3a"></div><div class="a" style="left:583.0px;top:325.1px;width:2.5px;height:5px;background:#132c3a"></div><div class="a" style="left:585.5px;top:325.1px;width:3.5px;height:5px;background:#2a4656"></div><div class="a" style="left:589.0px;top:325.1px;width:1.5px;height:5px;background:#2a4656"></div><div class="a" style="left:133.3px;top:333.90px;width:601.4px;height:11.6px;background:#0d2533;border-top:0.8px solid #1a3441"></div><div id="m91" class="t" style="left:136.80px;top:337.00px;font-size:6.71px;color:#d9e0e4;transform:scaleX(0.9091);transform-origin:left 0;-webkit-text-stroke:0.15px #d9e0e4">cje</div><div id="m92" class="t" style="left:197.80px;top:337.00px;font-size:6.71px;color:#d9e0e4;transform:scaleX(0.9091);transform-origin:left 0;-webkit-text-stroke:0.15px #d9e0e4">i-09c</div><div id="m93" class="t" style="left:278.50px;top:337.00px;font-size:6.71px;color:#d9e0e4;transform:scaleX(0.9091);transform-origin:left 0;-webkit-text-stroke:0.15px #d9e0e4">m4.large</div><div id="m94" class="t" style="left:331.90px;top:337.00px;font-size:6.71px;color:#d9e0e4;transform:scaleX(0.9091);transform-origin:left 0;-webkit-text-stroke:0.15px #d9e0e4">10.0.0.250</div><div id="m95" class="t" style="left:394.00px;top:337.00px;font-size:6.71px;color:#d9e0e4;transform:scaleX(0.9091);transform-origin:left 0;-webkit-text-stroke:0.15px #d9e0e4">n</div><div id="m96" class="t" style="left:454.60px;top:337.00px;font-size:6.71px;color:#d9e0e4;transform:scaleX(0.9091);transform-origin:left 0;-webkit-text-stroke:0.15px #d9e0e4">ap-northeast-2</div><div id="m97" class="t" style="left:516.50px;top:337.00px;font-size:6.71px;color:#d9e0e4;transform:scaleX(0.9091);transform-origin:left 0;-webkit-text-stroke:0.15px #d9e0e4">stopped</div><div id="m98" class="t" style="left:551.20px;top:337.00px;font-size:6.71px;color:#d9e0e4;transform:scaleX(0.9091);transform-origin:left 0;-webkit-text-stroke:0.15px #d9e0e4">ami-d</div><div id="m99" class="t" style="left:639.80px;top:337.00px;font-size:6.71px;color:#d9e0e4;transform:scaleX(0.9091);transform-origin:left 0;-webkit-text-stroke:0.15px #d9e0e4">2018-05-10T06:38:13.000Z</div><div class="a" style="left:144.6px;top:336.4px;width:2px;height:6px;background:#2a4656"></div><div class="a" style="left:146.6px;top:336.4px;width:3.5px;height:6px;background:#1a3a55"></div><div class="a" style="left:150.1px;top:336.4px;width:2px;height:6px;background:#2d5070"></div><div class="a" style="left:152.1px;top:336.4px;width:2px;height:6px;background:#1a3a55"></div><div class="a" style="left:154.1px;top:336.4px;width:3.5px;height:6px;background:#2a4656"></div><div class="a" style="left:157.6px;top:336.4px;width:1.5px;height:6px;background:#2a4656"></div><div class="a" style="left:159.1px;top:336.4px;width:3.5px;height:6px;background:#2d5070"></div><div class="a" style="left:162.6px;top:336.4px;width:1.5px;height:6px;background:#15303f"></div><div class="a" style="left:164.1px;top:336.4px;width:2px;height:6px;background:#15303f"></div><div class="a" style="left:166.1px;top:336.4px;width:1.5px;height:6px;background:#2a4656"></div><div class="a" style="left:167.6px;top:336.4px;width:1.5px;height:6px;background:#15303f"></div><div class="a" style="left:152px;top:339.9px;width:3.4px;height:3.6px;background:#a89e80"></div><div class="a" style="left:155.6px;top:334.9px;width:1.4px;height:4px;background:#7d9aa8"></div><div class="a" style="left:160px;top:334.9px;width:1.4px;height:4px;background:#7d9aa8"></div><div class="a" style="left:167.3px;top:334.9px;width:1.4px;height:4px;background:#7d9aa8"></div><div class="a" style="left:212.5px;top:337.8px;width:3px;height:5.5px;background:#a09890"></div><div class="a" style="left:215.5px;top:337.8px;width:3.5px;height:5.5px;background:#c0b870"></div><div class="a" style="left:219.0px;top:337.8px;width:3px;height:5.5px;background:#6c8ca0"></div><div class="a" style="left:225.5px;top:337.8px;width:4px;height:5.5px;background:#c0b870"></div><div class="a" style="left:229.5px;top:337.8px;width:3.5px;height:5.5px;background:#d0ccb8"></div><div class="a" style="left:233.0px;top:337.8px;width:3px;height:5.5px;background:#9a7a60"></div><div class="a" style="left:236.0px;top:337.8px;width:3px;height:5.5px;background:#7f9070"></div><div class="a" style="left:239.0px;top:337.8px;width:4px;height:5.5px;background:#7f9070"></div><div class="a" style="left:243.0px;top:337.8px;width:2px;height:5.5px;background:#9a7a60"></div><div class="a" style="left:247.0px;top:337.8px;width:4px;height:5.5px;background:#b0c0b0"></div><div class="a" style="left:251.0px;top:337.8px;width:2.5px;height:5.5px;background:#c8c4b0"></div><div class="a" style="left:253.5px;top:337.8px;width:2px;height:5.5px;background:#9a7a60"></div><div class="a" style="left:255.5px;top:337.8px;width:3px;height:5.5px;background:#c0b0c8"></div><div class="a" style="left:397.6px;top:338.1px;width:6.4px;height:4.8px;background:linear-gradient(90deg,#6f8fa4 0 1.5px,#a9c0cc 1.5px 3.6px,#c8cc98 3.6px 5px,#8fb0c0 5px)"></div><div class="a" style="left:565.5px;top:336.7px;width:4px;height:5px;background:#c0b0c8"></div><div class="a" style="left:569.5px;top:336.7px;width:4px;height:5px;background:#a09890"></div><div class="a" style="left:573.5px;top:336.7px;width:3px;height:5px;background:#d0ccb8"></div><div class="a" style="left:576.5px;top:336.7px;width:2.5px;height:5px;background:#d8dcd8"></div><div class="a" style="left:579.0px;top:336.7px;width:1.5px;height:5px;background:#c8c4b0"></div><div class="a" style="left:580.5px;top:336.7px;width:3px;height:5px;background:#a8c4d4"></div><div class="a" style="left:583.5px;top:336.7px;width:2.5px;height:5px;background:#2a48a0"></div><div class="a" style="left:133.3px;top:345.50px;width:601.4px;height:11.6px;background:#152d3a;border-top:0.8px solid #1a3441"></div><div id="m100" class="t" style="left:136.80px;top:349.00px;font-size:6.71px;color:#d9e0e4;transform:scaleX(0.9091);transform-origin:left 0;-webkit-text-stroke:0.15px #d9e0e4">cje</div><div id="m101" class="t" style="left:197.80px;top:349.00px;font-size:6.71px;color:#d9e0e4;transform:scaleX(0.9091);transform-origin:left 0;-webkit-text-stroke:0.15px #d9e0e4">i-087</div><div id="m102" class="t" style="left:278.50px;top:349.00px;font-size:6.71px;color:#d9e0e4;transform:scaleX(0.9091);transform-origin:left 0;-webkit-text-stroke:0.15px #d9e0e4">m4.large</div><div id="m103" class="t" style="left:331.90px;top:349.00px;font-size:6.71px;color:#d9e0e4;transform:scaleX(0.9091);transform-origin:left 0;-webkit-text-stroke:0.15px #d9e0e4">10.0.0.87</div><div id="m104" class="t" style="left:394.00px;top:349.00px;font-size:6.71px;color:#d9e0e4;transform:scaleX(0.9091);transform-origin:left 0;-webkit-text-stroke:0.15px #d9e0e4">n</div><div id="m105" class="t" style="left:454.60px;top:349.00px;font-size:6.71px;color:#d9e0e4;transform:scaleX(0.9091);transform-origin:left 0;-webkit-text-stroke:0.15px #d9e0e4">ap-northeast-2</div><div id="m106" class="t" style="left:516.50px;top:349.00px;font-size:6.71px;color:#d9e0e4;transform:scaleX(0.9091);transform-origin:left 0;-webkit-text-stroke:0.15px #d9e0e4">stopped</div><div id="m107" class="t" style="left:551.20px;top:349.00px;font-size:6.71px;color:#d9e0e4;transform:scaleX(0.9091);transform-origin:left 0;-webkit-text-stroke:0.15px #d9e0e4">ami-9</div><div id="m108" class="t" style="left:639.80px;top:349.00px;font-size:6.71px;color:#d9e0e4;transform:scaleX(0.9091);transform-origin:left 0;-webkit-text-stroke:0.15px #d9e0e4">2018-05-14T00:55:44.000Z</div><div class="a" style="left:148.1px;top:348.0px;width:1.5px;height:6px;background:#22405a"></div><div class="a" style="left:149.6px;top:348.0px;width:1.5px;height:6px;background:#1b3848"></div><div class="a" style="left:151.1px;top:348.0px;width:2.5px;height:6px;background:#2d5070"></div><div class="a" style="left:153.6px;top:348.0px;width:3px;height:6px;background:#132c3a"></div><div class="a" style="left:156.6px;top:348.0px;width:2.5px;height:6px;background:#2a4656"></div><div class="a" style="left:159.1px;top:348.0px;width:3.5px;height:6px;background:#132c3a"></div><div class="a" style="left:162.6px;top:348.0px;width:2.5px;height:6px;background:#15303f"></div><div class="a" style="left:165.1px;top:348.0px;width:4px;height:6px;background:#15303f"></div><div class="a" style="left:152px;top:350.5px;width:3.4px;height:4.5px;background:#a89e80"></div><div class="a" style="left:215.0px;top:349.4px;width:4px;height:5.5px;background:#c0b870"></div><div class="a" style="left:219.0px;top:349.4px;width:1.5px;height:5.5px;background:#5a80b0"></div><div class="a" style="left:220.5px;top:349.4px;width:1.5px;height:5.5px;background:#9a7a60"></div><div class="a" style="left:222.0px;top:349.4px;width:3px;height:5.5px;background:#8fb0c8"></div><div class="a" style="left:225.0px;top:349.4px;width:2.5px;height:5.5px;background:#8a9aa5"></div><div class="a" style="left:227.5px;top:349.4px;width:3.5px;height:5.5px;background:#9a7a60"></div><div class="a" style="left:231.0px;top:349.4px;width:2px;height:5.5px;background:#c0b0c8"></div><div class="a" style="left:235.0px;top:349.4px;width:4px;height:5.5px;background:#d0ccb8"></div><div class="a" style="left:239.0px;top:349.4px;width:2.5px;height:5.5px;background:#c0b0c8"></div><div class="a" style="left:241.5px;top:349.4px;width:2.5px;height:5.5px;background:#b8ccd8"></div><div class="a" style="left:244.0px;top:349.4px;width:2.5px;height:5.5px;background:#b8ccd8"></div><div class="a" style="left:246.5px;top:349.4px;width:4px;height:5.5px;background:#d0ccb8"></div><div class="a" style="left:250.5px;top:349.4px;width:3.5px;height:5.5px;background:#c8c4b0"></div><div class="a" style="left:254.0px;top:349.4px;width:1.5px;height:5.5px;background:#8fb0c8"></div><div class="a" style="left:255.5px;top:349.4px;width:3.5px;height:5.5px;background:#a8c4d4"></div><div class="a" style="left:397.6px;top:349.7px;width:6.4px;height:4.8px;background:linear-gradient(90deg,#6f8fa4 0 1.5px,#a9c0cc 1.5px 3.6px,#c8cc98 3.6px 5px,#8fb0c0 5px)"></div><div class="a" style="left:565.5px;top:348.3px;width:3.5px;height:5px;background:#d0ccb8"></div><div class="a" style="left:569.0px;top:348.3px;width:2px;height:5px;background:#b0c0b0"></div><div class="a" style="left:574.0px;top:348.3px;width:1.5px;height:5px;background:#b8ccd8"></div><div class="a" style="left:575.5px;top:348.3px;width:1.5px;height:5px;background:#c0b870"></div><div class="a" style="left:577.0px;top:348.3px;width:3px;height:5px;background:#7f9070"></div><div class="a" style="left:580.0px;top:348.3px;width:4px;height:5px;background:#a09890"></div><div class="a" style="left:588.0px;top:348.3px;width:2.5px;height:5px;background:#2a48a0"></div><div class="a" style="left:133.3px;top:357.10px;width:601.4px;height:11.6px;background:#0d2533;border-top:0.8px solid #1a3441"></div><div id="m109" class="t" style="left:136.80px;top:361.00px;font-size:6.71px;color:#d9e0e4;transform:scaleX(0.9091);transform-origin:left 0;-webkit-text-stroke:0.15px #d9e0e4">cje</div><div id="m110" class="t" style="left:197.80px;top:361.00px;font-size:6.71px;color:#d9e0e4;transform:scaleX(0.9091);transform-origin:left 0;-webkit-text-stroke:0.15px #d9e0e4">i-016</div><div id="m111" class="t" style="left:278.50px;top:361.00px;font-size:6.71px;color:#d9e0e4;transform:scaleX(0.9091);transform-origin:left 0;-webkit-text-stroke:0.15px #d9e0e4">m4.large</div><div id="m112" class="t" style="left:331.90px;top:361.00px;font-size:6.71px;color:#d9e0e4;transform:scaleX(0.9091);transform-origin:left 0;-webkit-text-stroke:0.15px #d9e0e4">10.0.0.93</div><div id="m113" class="t" style="left:394.00px;top:361.00px;font-size:6.71px;color:#d9e0e4;transform:scaleX(0.9091);transform-origin:left 0;-webkit-text-stroke:0.15px #d9e0e4">n</div><div id="m114" class="t" style="left:454.60px;top:361.00px;font-size:6.71px;color:#d9e0e4;transform:scaleX(0.9091);transform-origin:left 0;-webkit-text-stroke:0.15px #d9e0e4">ap-northeast-2</div><div id="m115" class="t" style="left:516.50px;top:361.00px;font-size:6.71px;color:#d9e0e4;transform:scaleX(0.9091);transform-origin:left 0;-webkit-text-stroke:0.15px #d9e0e4">stopped</div><div id="m116" class="t" style="left:551.20px;top:361.00px;font-size:6.71px;color:#d9e0e4;transform:scaleX(0.9091);transform-origin:left 0;-webkit-text-stroke:0.15px #d9e0e4">ami-5</div><div id="m117" class="t" style="left:639.80px;top:361.00px;font-size:6.71px;color:#d9e0e4;transform:scaleX(0.9091);transform-origin:left 0;-webkit-text-stroke:0.15px #d9e0e4">2018-05-29T06:38:02.000Z</div><div class="a" style="left:144.6px;top:359.6px;width:1.5px;height:6px;background:#1b3848"></div><div class="a" style="left:146.1px;top:359.6px;width:2.5px;height:6px;background:#22405a"></div><div class="a" style="left:151.1px;top:359.6px;width:3.5px;height:6px;background:#15303f"></div><div class="a" style="left:154.6px;top:359.6px;width:2.5px;height:6px;background:#1b3848"></div><div class="a" style="left:157.1px;top:359.6px;width:1.5px;height:6px;background:#15303f"></div><div class="a" style="left:158.6px;top:359.6px;width:3px;height:6px;background:#132c3a"></div><div class="a" style="left:161.6px;top:359.6px;width:2px;height:6px;background:#2d5070"></div><div class="a" style="left:163.6px;top:359.6px;width:1.5px;height:6px;background:#2d5070"></div><div class="a" style="left:165.1px;top:359.6px;width:1.5px;height:6px;background:#2a4656"></div><div class="a" style="left:166.6px;top:359.6px;width:1.5px;height:6px;background:#22405a"></div><div class="a" style="left:168.1px;top:359.6px;width:1.5px;height:6px;background:#15303f"></div><div class="a" style="left:152px;top:362.1px;width:3.4px;height:4.5px;background:#a89e80"></div><div class="a" style="left:216.0px;top:361.0px;width:2px;height:5.5px;background:#a8c4d4"></div><div class="a" style="left:218.0px;top:361.0px;width:2.5px;height:5.5px;background:#6c8ca0"></div><div class="a" style="left:220.5px;top:361.0px;width:2px;height:5.5px;background:#b0c0b0"></div><div class="a" style="left:222.5px;top:361.0px;width:1.5px;height:5.5px;background:#a09890"></div><div class="a" style="left:224.0px;top:361.0px;width:4px;height:5.5px;background:#a09890"></div><div class="a" style="left:228.0px;top:361.0px;width:2px;height:5.5px;background:#a09890"></div><div class="a" style="left:230.0px;top:361.0px;width:3.5px;height:5.5px;background:#b8ccd8"></div><div class="a" style="left:233.5px;top:361.0px;width:4px;height:5.5px;background:#5a80b0"></div><div class="a" style="left:237.5px;top:361.0px;width:1.5px;height:5.5px;background:#b0c0b0"></div><div class="a" style="left:239.0px;top:361.0px;width:4px;height:5.5px;background:#9a7a60"></div><div class="a" style="left:243.0px;top:361.0px;width:3px;height:5.5px;background:#8a9aa5"></div><div class="a" style="left:246.0px;top:361.0px;width:4px;height:5.5px;background:#5a80b0"></div><div class="a" style="left:250.0px;top:361.0px;width:3px;height:5.5px;background:#c8c4b0"></div><div class="a" style="left:253.0px;top:361.0px;width:1.5px;height:5.5px;background:#a09890"></div><div class="a" style="left:254.5px;top:361.0px;width:3.5px;height:5.5px;background:#a09890"></div><div class="a" style="left:258.0px;top:361.0px;width:1.0px;height:5.5px;background:#6c8ca0"></div><div class="a" style="left:398px;top:359.6px;width:5px;height:6px;background:#102838"></div><div class="a" style="left:400.3px;top:359.9px;width:1.6px;height:4.5px;background:#c9c98e"></div><div class="a" style="left:565.5px;top:359.9px;width:2.5px;height:5px;background:#56707e"></div><div class="a" style="left:568.0px;top:359.9px;width:2px;height:5px;background:#3d5868"></div><div class="a" style="left:570.0px;top:359.9px;width:2px;height:5px;background:#264558"></div><div class="a" style="left:572.0px;top:359.9px;width:3px;height:5px;background:#2f4a5a"></div><div class="a" style="left:575.0px;top:359.9px;width:3px;height:5px;background:#56707e"></div><div class="a" style="left:578.0px;top:359.9px;width:1.5px;height:5px;background:#1e3b4e"></div><div class="a" style="left:579.5px;top:359.9px;width:2px;height:5px;background:#3d5868"></div><div class="a" style="left:581.5px;top:359.9px;width:2.5px;height:5px;background:#1e3b4e"></div><div class="a" style="left:584.0px;top:359.9px;width:4px;height:5px;background:#4a6575"></div><div class="a" style="left:133.3px;top:368.70px;width:601.4px;height:11.6px;background:#152d3a;border-top:0.8px solid #1a3441"></div><div id="m118" class="t" style="left:136.80px;top:372.00px;font-size:6.71px;color:#d9e0e4;transform:scaleX(0.9091);transform-origin:left 0;-webkit-text-stroke:0.15px #d9e0e4">cje</div><div id="m119" class="t" style="left:197.80px;top:372.00px;font-size:6.71px;color:#d9e0e4;transform:scaleX(0.9091);transform-origin:left 0;-webkit-text-stroke:0.15px #d9e0e4">i-005</div><div id="m120" class="t" style="left:278.50px;top:372.00px;font-size:6.71px;color:#d9e0e4;transform:scaleX(0.9091);transform-origin:left 0;-webkit-text-stroke:0.15px #d9e0e4">m4.large</div><div id="m121" class="t" style="left:331.90px;top:372.00px;font-size:6.71px;color:#d9e0e4;transform:scaleX(0.9091);transform-origin:left 0;-webkit-text-stroke:0.15px #d9e0e4">10.0.0.231</div><div id="m122" class="t" style="left:394.00px;top:372.00px;font-size:6.71px;color:#d9e0e4;transform:scaleX(0.9091);transform-origin:left 0;-webkit-text-stroke:0.15px #d9e0e4">n</div><div id="m123" class="t" style="left:454.60px;top:372.00px;font-size:6.71px;color:#d9e0e4;transform:scaleX(0.9091);transform-origin:left 0;-webkit-text-stroke:0.15px #d9e0e4">ap-northeast-2</div><div id="m124" class="t" style="left:516.50px;top:372.00px;font-size:6.71px;color:#d9e0e4;transform:scaleX(0.9091);transform-origin:left 0;-webkit-text-stroke:0.15px #d9e0e4">stopped</div><div id="m125" class="t" style="left:551.20px;top:372.00px;font-size:6.71px;color:#d9e0e4;transform:scaleX(0.9091);transform-origin:left 0;-webkit-text-stroke:0.15px #d9e0e4">ami-b</div><div id="m126" class="t" style="left:639.80px;top:372.00px;font-size:6.71px;color:#d9e0e4;transform:scaleX(0.9091);transform-origin:left 0;-webkit-text-stroke:0.15px #d9e0e4">2018-06-26T01:44:06.000Z</div><div class="a" style="left:144.6px;top:371.2px;width:2px;height:6px;background:#15303f"></div><div class="a" style="left:146.6px;top:371.2px;width:3px;height:6px;background:#132c3a"></div><div class="a" style="left:149.6px;top:371.2px;width:1.5px;height:6px;background:#132c3a"></div><div class="a" style="left:151.1px;top:371.2px;width:3px;height:6px;background:#2a4656"></div><div class="a" style="left:154.1px;top:371.2px;width:2.5px;height:6px;background:#1a3a55"></div><div class="a" style="left:158.1px;top:371.2px;width:3.5px;height:6px;background:#15303f"></div><div class="a" style="left:161.6px;top:371.2px;width:3px;height:6px;background:#1a3a55"></div><div class="a" style="left:164.6px;top:371.2px;width:1.5px;height:6px;background:#1a3a55"></div><div class="a" style="left:166.1px;top:371.2px;width:2.5px;height:6px;background:#1b3848"></div><div class="a" style="left:168.6px;top:371.2px;width:1.0px;height:6px;background:#1b3848"></div><div class="a" style="left:152px;top:373.7px;width:3.4px;height:4.5px;background:#a89e80"></div><div class="a" style="left:212.5px;top:372.6px;width:4px;height:5.5px;background:#d8dcd8"></div><div class="a" style="left:216.5px;top:372.6px;width:2px;height:5.5px;background:#a09890"></div><div class="a" style="left:218.5px;top:372.6px;width:2.5px;height:5.5px;background:#d8dcd8"></div><div class="a" style="left:221.0px;top:372.6px;width:2px;height:5.5px;background:#6c8ca0"></div><div class="a" style="left:223.0px;top:372.6px;width:3px;height:5.5px;background:#b8ccd8"></div><div class="a" style="left:226.0px;top:372.6px;width:3px;height:5.5px;background:#a8c4d4"></div><div class="a" style="left:229.0px;top:372.6px;width:2.5px;height:5.5px;background:#8fb0c8"></div><div class="a" style="left:231.5px;top:372.6px;width:2.5px;height:5.5px;background:#9a7a60"></div><div class="a" style="left:234.0px;top:372.6px;width:2.5px;height:5.5px;background:#48a0b8"></div><div class="a" style="left:236.5px;top:372.6px;width:3px;height:5.5px;background:#d0ccb8"></div><div class="a" style="left:239.5px;top:372.6px;width:4px;height:5.5px;background:#2a48a0"></div><div class="a" style="left:243.5px;top:372.6px;width:2.5px;height:5.5px;background:#a8c4d4"></div><div class="a" style="left:249.0px;top:372.6px;width:3.5px;height:5.5px;background:#8fb0c8"></div><div class="a" style="left:252.5px;top:372.6px;width:2.5px;height:5.5px;background:#c0b870"></div><div class="a" style="left:255.0px;top:372.6px;width:1.5px;height:5.5px;background:#2a48a0"></div><div class="a" style="left:397.6px;top:372.9px;width:6.4px;height:4.8px;background:linear-gradient(90deg,#6f8fa4 0 1.5px,#a9c0cc 1.5px 3.6px,#c8cc98 3.6px 5px,#8fb0c0 5px)"></div><div class="a" style="left:567.5px;top:371.5px;width:3px;height:5px;background:#d0ccb8"></div><div class="a" style="left:570.5px;top:371.5px;width:2.5px;height:5px;background:#8fb0c8"></div><div class="a" style="left:573.0px;top:371.5px;width:1.5px;height:5px;background:#a8c4d4"></div><div class="a" style="left:574.5px;top:371.5px;width:3.5px;height:5px;background:#7f9070"></div><div class="a" style="left:579.5px;top:371.5px;width:3px;height:5px;background:#b0c0b0"></div><div class="a" style="left:582.5px;top:371.5px;width:4px;height:5px;background:#6c8ca0"></div><div class="a" style="left:586.5px;top:371.5px;width:1.5px;height:5px;background:#b0c0b0"></div><div class="a" style="left:588.0px;top:371.5px;width:2px;height:5px;background:#48a0b8"></div><div class="a" style="left:133.3px;top:380.30px;width:601.4px;height:11.6px;background:#0d2533;border-top:0.8px solid #1a3441"></div><div id="m127" class="t" style="left:136.80px;top:384.00px;font-size:6.71px;color:#d9e0e4;transform:scaleX(0.9091);transform-origin:left 0;-webkit-text-stroke:0.15px #d9e0e4">cje</div><div id="m128" class="t" style="left:197.80px;top:384.00px;font-size:6.71px;color:#d9e0e4;transform:scaleX(0.9091);transform-origin:left 0;-webkit-text-stroke:0.15px #d9e0e4">i-0f0</div><div id="m129" class="t" style="left:278.50px;top:384.00px;font-size:6.71px;color:#d9e0e4;transform:scaleX(0.9091);transform-origin:left 0;-webkit-text-stroke:0.15px #d9e0e4">m4.large</div><div id="m130" class="t" style="left:331.90px;top:384.00px;font-size:6.71px;color:#d9e0e4;transform:scaleX(0.9091);transform-origin:left 0;-webkit-text-stroke:0.15px #d9e0e4">10.0.111.18</div><div id="m131" class="t" style="left:394.00px;top:384.00px;font-size:6.71px;color:#d9e0e4;transform:scaleX(0.9091);transform-origin:left 0;-webkit-text-stroke:0.15px #d9e0e4">n</div><div id="m132" class="t" style="left:454.60px;top:384.00px;font-size:6.71px;color:#d9e0e4;transform:scaleX(0.9091);transform-origin:left 0;-webkit-text-stroke:0.15px #d9e0e4">ap-northeast-2</div><div id="m133" class="t" style="left:516.50px;top:384.00px;font-size:6.71px;color:#d9e0e4;transform:scaleX(0.9091);transform-origin:left 0;-webkit-text-stroke:0.15px #d9e0e4">stopped</div><div id="m134" class="t" style="left:551.20px;top:384.00px;font-size:6.71px;color:#d9e0e4;transform:scaleX(0.9091);transform-origin:left 0;-webkit-text-stroke:0.15px #d9e0e4">ami-c</div><div id="m135" class="t" style="left:639.80px;top:384.00px;font-size:6.71px;color:#d9e0e4;transform:scaleX(0.9091);transform-origin:left 0;-webkit-text-stroke:0.15px #d9e0e4">2018-09-18T07:55:35.000Z</div><div class="a" style="left:145.0px;top:384.6px;width:2.5px;height:4.8px;background:#7895a3"></div><div class="a" style="left:147.5px;top:384.6px;width:3px;height:4.8px;background:#7895a3"></div><div class="a" style="left:150.5px;top:384.6px;width:3px;height:4.8px;background:#86a0ac"></div><div class="a" style="left:153.5px;top:384.6px;width:1.5px;height:4.8px;background:#a3b3ba"></div><div class="a" style="left:155.0px;top:384.6px;width:1.5px;height:4.8px;background:#4f7080"></div><div class="a" style="left:156.5px;top:384.6px;width:3.5px;height:4.8px;background:#c8ccc4"></div><div class="a" style="left:160.0px;top:384.6px;width:3px;height:4.8px;background:#5b7886"></div><div class="a" style="left:163.0px;top:384.6px;width:2px;height:4.8px;background:#c8ccc4"></div><div class="a" style="left:165.0px;top:384.6px;width:3.5px;height:4.8px;background:#5b7886"></div><div class="a" style="left:168.5px;top:384.6px;width:1.0px;height:4.8px;background:#5b7886"></div><div class="a" style="left:212.5px;top:384.2px;width:1.5px;height:5.5px;background:#8fb0c8"></div><div class="a" style="left:214.0px;top:384.2px;width:3px;height:5.5px;background:#a09890"></div><div class="a" style="left:217.0px;top:384.2px;width:2px;height:5.5px;background:#48a0b8"></div><div class="a" style="left:219.0px;top:384.2px;width:1.5px;height:5.5px;background:#d8dcd8"></div><div class="a" style="left:220.5px;top:384.2px;width:2px;height:5.5px;background:#a09890"></div><div class="a" style="left:222.5px;top:384.2px;width:4px;height:5.5px;background:#d0ccb8"></div><div class="a" style="left:226.5px;top:384.2px;width:1.5px;height:5.5px;background:#5a80b0"></div><div class="a" style="left:228.0px;top:384.2px;width:3px;height:5.5px;background:#c8c4b0"></div><div class="a" style="left:234.0px;top:384.2px;width:1.5px;height:5.5px;background:#8fb0c8"></div><div class="a" style="left:235.5px;top:384.2px;width:4px;height:5.5px;background:#6c8ca0"></div><div class="a" style="left:239.5px;top:384.2px;width:3.5px;height:5.5px;background:#7f9070"></div><div class="a" style="left:246.0px;top:384.2px;width:3.5px;height:5.5px;background:#c8c4b0"></div><div class="a" style="left:249.5px;top:384.2px;width:2px;height:5.5px;background:#5a80b0"></div><div class="a" style="left:251.5px;top:384.2px;width:2px;height:5.5px;background:#9a7a60"></div><div class="a" style="left:253.5px;top:384.2px;width:4px;height:5.5px;background:#c8c4b0"></div><div class="a" style="left:257.5px;top:384.2px;width:1.5px;height:5.5px;background:#8a9aa5"></div><div class="a" style="left:397.6px;top:384.5px;width:6.4px;height:4.8px;background:linear-gradient(90deg,#6f8fa4 0 1.5px,#a9c0cc 1.5px 3.6px,#c8cc98 3.6px 5px,#8fb0c0 5px)"></div><div class="a" style="left:565.5px;top:383.1px;width:1.5px;height:5px;background:#5b7886"></div><div class="a" style="left:567.0px;top:383.1px;width:3.5px;height:5px;background:#c6ccc8"></div><div class="a" style="left:570.5px;top:383.1px;width:2px;height:5px;background:#3c6a8a"></div><div class="a" style="left:572.5px;top:383.1px;width:4px;height:5px;background:#8ea3ad"></div><div class="a" style="left:576.5px;top:383.1px;width:1.5px;height:5px;background:#5b7886"></div><div class="a" style="left:578.0px;top:383.1px;width:3px;height:5px;background:#6f8a96"></div><div class="a" style="left:581.0px;top:383.1px;width:1.5px;height:5px;background:#9db0b9"></div><div class="a" style="left:585.0px;top:383.1px;width:3.5px;height:5px;background:#5b7886"></div><div class="a" style="left:133.3px;top:391.90px;width:601.4px;height:11.6px;background:#152d3a;border-top:0.8px solid #1a3441"></div><div id="m136" class="t" style="left:136.80px;top:395.00px;font-size:6.71px;color:#d9e0e4;transform:scaleX(0.9091);transform-origin:left 0;-webkit-text-stroke:0.15px #d9e0e4">cje</div><div id="m137" class="t" style="left:197.80px;top:395.00px;font-size:6.71px;color:#d9e0e4;transform:scaleX(0.9091);transform-origin:left 0;-webkit-text-stroke:0.15px #d9e0e4">i-065</div><div id="m138" class="t" style="left:278.50px;top:395.00px;font-size:6.71px;color:#d9e0e4;transform:scaleX(0.9091);transform-origin:left 0;-webkit-text-stroke:0.15px #d9e0e4">m4.large</div><div id="m139" class="t" style="left:331.90px;top:395.00px;font-size:6.71px;color:#d9e0e4;transform:scaleX(0.9091);transform-origin:left 0;-webkit-text-stroke:0.15px #d9e0e4">10.0.1.16</div><div id="m140" class="t" style="left:394.00px;top:395.00px;font-size:6.71px;color:#d9e0e4;transform:scaleX(0.9091);transform-origin:left 0;-webkit-text-stroke:0.15px #d9e0e4">n</div><div id="m141" class="t" style="left:454.60px;top:395.00px;font-size:6.71px;color:#d9e0e4;transform:scaleX(0.9091);transform-origin:left 0;-webkit-text-stroke:0.15px #d9e0e4">ap-northeast-2</div><div id="m142" class="t" style="left:516.50px;top:395.00px;font-size:6.71px;color:#d9e0e4;transform:scaleX(0.9091);transform-origin:left 0;-webkit-text-stroke:0.15px #d9e0e4">stopped</div><div id="m143" class="t" style="left:551.20px;top:395.00px;font-size:6.71px;color:#d9e0e4;transform:scaleX(0.9091);transform-origin:left 0;-webkit-text-stroke:0.15px #d9e0e4">ami-b</div><div id="m144" class="t" style="left:639.80px;top:395.00px;font-size:6.71px;color:#d9e0e4;transform:scaleX(0.9091);transform-origin:left 0;-webkit-text-stroke:0.15px #d9e0e4">2018-12-03T00:43:35.000Z</div><div class="a" style="left:145.0px;top:396.2px;width:3px;height:4.8px;background:#5b7886"></div><div class="a" style="left:148.0px;top:396.2px;width:1.5px;height:4.8px;background:#7895a3"></div><div class="a" style="left:149.5px;top:396.2px;width:1.5px;height:4.8px;background:#4f7080"></div><div class="a" style="left:151.0px;top:396.2px;width:4px;height:4.8px;background:#8ea3ad"></div><div class="a" style="left:155.0px;top:396.2px;width:2.5px;height:4.8px;background:#86a0ac"></div><div class="a" style="left:157.5px;top:396.2px;width:2.5px;height:4.8px;background:#6f8a96"></div><div class="a" style="left:160.0px;top:396.2px;width:4px;height:4.8px;background:#86a0ac"></div><div class="a" style="left:164.0px;top:396.2px;width:2.5px;height:4.8px;background:#5b7886"></div><div class="a" style="left:166.5px;top:396.2px;width:1.5px;height:4.8px;background:#8ea3ad"></div><div class="a" style="left:168.0px;top:396.2px;width:1.5px;height:4.8px;background:#5b7886"></div><div class="a" style="left:212.5px;top:395.8px;width:2.5px;height:5.5px;background:#d0ccb8"></div><div class="a" style="left:215.0px;top:395.8px;width:2px;height:5.5px;background:#c0b870"></div><div class="a" style="left:217.0px;top:395.8px;width:2.5px;height:5.5px;background:#6c8ca0"></div><div class="a" style="left:219.5px;top:395.8px;width:3.5px;height:5.5px;background:#5a80b0"></div><div class="a" style="left:223.0px;top:395.8px;width:3px;height:5.5px;background:#8a9aa5"></div><div class="a" style="left:226.0px;top:395.8px;width:3.5px;height:5.5px;background:#a8c4d4"></div><div class="a" style="left:229.5px;top:395.8px;width:1.5px;height:5.5px;background:#b0c0b0"></div><div class="a" style="left:231.0px;top:395.8px;width:3px;height:5.5px;background:#8a9aa5"></div><div class="a" style="left:234.0px;top:395.8px;width:2px;height:5.5px;background:#48a0b8"></div><div class="a" style="left:236.0px;top:395.8px;width:4px;height:5.5px;background:#7f9070"></div><div class="a" style="left:240.0px;top:395.8px;width:2px;height:5.5px;background:#c0b0c8"></div><div class="a" style="left:246.0px;top:395.8px;width:4px;height:5.5px;background:#2a48a0"></div><div class="a" style="left:250.0px;top:395.8px;width:4px;height:5.5px;background:#d8dcd8"></div><div class="a" style="left:254.0px;top:395.8px;width:2.5px;height:5.5px;background:#9a7a60"></div><div class="a" style="left:256.5px;top:395.8px;width:1.5px;height:5.5px;background:#7f9070"></div><div class="a" style="left:258.0px;top:395.8px;width:1.0px;height:5.5px;background:#9a7a60"></div><div class="a" style="left:397.6px;top:396.1px;width:6.4px;height:4.8px;background:linear-gradient(90deg,#6f8fa4 0 1.5px,#a9c0cc 1.5px 3.6px,#c8cc98 3.6px 5px,#8fb0c0 5px)"></div><div class="a" style="left:569.0px;top:394.7px;width:2px;height:5px;background:#c6ccc8"></div><div class="a" style="left:571.0px;top:394.7px;width:3px;height:5px;background:#9db0b9"></div><div class="a" style="left:574.0px;top:394.7px;width:2px;height:5px;background:#9db0b9"></div><div class="a" style="left:576.0px;top:394.7px;width:2px;height:5px;background:#9db0b9"></div><div class="a" style="left:578.0px;top:394.7px;width:1.5px;height:5px;background:#5b7886"></div><div class="a" style="left:579.5px;top:394.7px;width:4px;height:5px;background:#6f8a96"></div><div class="a" style="left:583.5px;top:394.7px;width:3px;height:5px;background:#8ea3ad"></div><div class="a" style="left:586.5px;top:394.7px;width:1.5px;height:5px;background:#8ea3ad"></div><div class="a" style="left:588.0px;top:394.7px;width:2.5px;height:5px;background:#c6ccc8"></div><div class="a" style="left:133.3px;top:403.50px;width:601.4px;height:11.6px;background:#0d2533;border-top:0.8px solid #1a3441"></div><div id="m145" class="t" style="left:136.80px;top:407.00px;font-size:6.71px;color:#d9e0e4;transform:scaleX(0.9091);transform-origin:left 0;-webkit-text-stroke:0.15px #d9e0e4">cje</div><div id="m146" class="t" style="left:197.80px;top:407.00px;font-size:6.71px;color:#d9e0e4;transform:scaleX(0.9091);transform-origin:left 0;-webkit-text-stroke:0.15px #d9e0e4">i-04a</div><div id="m147" class="t" style="left:278.50px;top:407.00px;font-size:6.71px;color:#d9e0e4;transform:scaleX(0.9091);transform-origin:left 0;-webkit-text-stroke:0.15px #d9e0e4">m4.large</div><div id="m148" class="t" style="left:331.90px;top:407.00px;font-size:6.71px;color:#d9e0e4;transform:scaleX(0.9091);transform-origin:left 0;-webkit-text-stroke:0.15px #d9e0e4">10.0.1.25</div><div id="m149" class="t" style="left:394.00px;top:407.00px;font-size:6.71px;color:#d9e0e4;transform:scaleX(0.9091);transform-origin:left 0;-webkit-text-stroke:0.15px #d9e0e4">n</div><div id="m150" class="t" style="left:454.60px;top:407.00px;font-size:6.71px;color:#d9e0e4;transform:scaleX(0.9091);transform-origin:left 0;-webkit-text-stroke:0.15px #d9e0e4">ap-northeast-2</div><div id="m151" class="t" style="left:516.50px;top:407.00px;font-size:6.71px;color:#d9e0e4;transform:scaleX(0.9091);transform-origin:left 0;-webkit-text-stroke:0.15px #d9e0e4">stopped</div><div id="m152" class="t" style="left:551.20px;top:407.00px;font-size:6.71px;color:#d9e0e4;transform:scaleX(0.9091);transform-origin:left 0;-webkit-text-stroke:0.15px #d9e0e4">ami-0</div><div id="m153" class="t" style="left:639.80px;top:407.00px;font-size:6.71px;color:#d9e0e4;transform:scaleX(0.9091);transform-origin:left 0;-webkit-text-stroke:0.15px #d9e0e4">2019-03-22T01:11:05.000Z</div><div class="a" style="left:145.0px;top:407.8px;width:2.5px;height:4.8px;background:#6f8a96"></div><div class="a" style="left:147.5px;top:407.8px;width:2.5px;height:4.8px;background:#c8ccc4"></div><div class="a" style="left:150.0px;top:407.8px;width:2.5px;height:4.8px;background:#8ea3ad"></div><div class="a" style="left:152.5px;top:407.8px;width:1.5px;height:4.8px;background:#8ea3ad"></div><div class="a" style="left:154.0px;top:407.8px;width:3px;height:4.8px;background:#4f7080"></div><div class="a" style="left:157.0px;top:407.8px;width:3px;height:4.8px;background:#86a0ac"></div><div class="a" style="left:160.0px;top:407.8px;width:3px;height:4.8px;background:#4f7080"></div><div class="a" style="left:163.0px;top:407.8px;width:2px;height:4.8px;background:#7895a3"></div><div class="a" style="left:165.0px;top:407.8px;width:4px;height:4.8px;background:#5b7886"></div><div class="a" style="left:212.5px;top:407.4px;width:2.5px;height:5.5px;background:#1a3a55"></div><div class="a" style="left:215.0px;top:407.4px;width:2.5px;height:5.5px;background:#2a4656"></div><div class="a" style="left:217.5px;top:407.4px;width:1.5px;height:5.5px;background:#1a3a55"></div><div class="a" style="left:219.0px;top:407.4px;width:2px;height:5.5px;background:#15303f"></div><div class="a" style="left:221.0px;top:407.4px;width:4px;height:5.5px;background:#2a4656"></div><div class="a" style="left:225.0px;top:407.4px;width:3.5px;height:5.5px;background:#1a3a55"></div><div class="a" style="left:230.0px;top:407.4px;width:2.5px;height:5.5px;background:#1b3848"></div><div class="a" style="left:232.5px;top:407.4px;width:1.5px;height:5.5px;background:#132c3a"></div><div class="a" style="left:234.0px;top:407.4px;width:3px;height:5.5px;background:#1b3848"></div><div class="a" style="left:237.0px;top:407.4px;width:3px;height:5.5px;background:#132c3a"></div><div class="a" style="left:240.0px;top:407.4px;width:2px;height:5.5px;background:#2d5070"></div><div class="a" style="left:242.0px;top:407.4px;width:4px;height:5.5px;background:#2d5070"></div><div class="a" style="left:246.0px;top:407.4px;width:2.5px;height:5.5px;background:#2a4656"></div><div class="a" style="left:248.5px;top:407.4px;width:2.5px;height:5.5px;background:#132c3a"></div><div class="a" style="left:251.0px;top:407.4px;width:2.5px;height:5.5px;background:#1b3848"></div><div class="a" style="left:253.5px;top:407.4px;width:2px;height:5.5px;background:#1b3848"></div><div class="a" style="left:255.5px;top:407.4px;width:2.5px;height:5.5px;background:#2a4656"></div><div class="a" style="left:258.0px;top:407.4px;width:1.0px;height:5.5px;background:#1a3a55"></div><div class="a" style="left:398px;top:406.0px;width:5px;height:6px;background:#102838"></div><div class="a" style="left:400.3px;top:406.3px;width:1.6px;height:4.5px;background:#c9c98e"></div><div class="a" style="left:568.0px;top:406.3px;width:3.5px;height:5px;background:#9a7a60"></div><div class="a" style="left:571.5px;top:406.3px;width:4px;height:5px;background:#8a9aa5"></div><div class="a" style="left:575.5px;top:406.3px;width:1.5px;height:5px;background:#5a80b0"></div><div class="a" style="left:577.0px;top:406.3px;width:3px;height:5px;background:#8a9aa5"></div><div class="a" style="left:580.0px;top:406.3px;width:2.5px;height:5px;background:#8a9aa5"></div><div class="a" style="left:582.5px;top:406.3px;width:2px;height:5px;background:#d0ccb8"></div><div class="a" style="left:584.5px;top:406.3px;width:1.5px;height:5px;background:#c0b0c8"></div><div class="a" style="left:586.0px;top:406.3px;width:3px;height:5px;background:#b8ccd8"></div><div class="a" style="left:589.0px;top:406.3px;width:1.5px;height:5px;background:#d8dcd8"></div><div class="a" style="left:590.5px;top:406.3px;width:2px;height:5px;background:#48a0b8"></div><div class="a" style="left:592.5px;top:406.3px;width:2px;height:5px;background:#c0b870"></div><div class="a" style="left:594.5px;top:406.3px;width:1.5px;height:5px;background:#d0ccb8"></div><div class="a" style="left:596.0px;top:406.3px;width:1.5px;height:5px;background:#8fb0c8"></div><div class="a" style="left:597.5px;top:406.3px;width:4px;height:5px;background:#2a48a0"></div><div class="a" style="left:601.5px;top:406.3px;width:1.5px;height:5px;background:#6c8ca0"></div><div class="a" style="left:603.0px;top:406.3px;width:3.5px;height:5px;background:#8fb0c8"></div><div class="a" style="left:606.5px;top:406.3px;width:1.5px;height:5px;background:#b0c0b0"></div><div class="a" style="left:608.0px;top:406.3px;width:4px;height:5px;background:#c0b0c8"></div><div class="a" style="left:612.0px;top:406.3px;width:3px;height:5px;background:#8fb0c8"></div><div class="a" style="left:615.0px;top:406.3px;width:1.5px;height:5px;background:#8fb0c8"></div><div class="a" style="left:133.3px;top:415.10px;width:601.4px;height:11.6px;background:#152d3a;border-top:0.8px solid #1a3441"></div><div id="m154" class="t" style="left:136.80px;top:419.00px;font-size:6.71px;color:#d9e0e4;transform:scaleX(0.9091);transform-origin:left 0;-webkit-text-stroke:0.15px #d9e0e4">cje</div><div id="m155" class="t" style="left:197.80px;top:419.00px;font-size:6.71px;color:#d9e0e4;transform:scaleX(0.9091);transform-origin:left 0;-webkit-text-stroke:0.15px #d9e0e4">i-0cc</div><div id="m156" class="t" style="left:278.50px;top:419.00px;font-size:6.71px;color:#d9e0e4;transform:scaleX(0.9091);transform-origin:left 0;-webkit-text-stroke:0.15px #d9e0e4">m4.large</div><div id="m157" class="t" style="left:331.90px;top:419.00px;font-size:6.71px;color:#d9e0e4;transform:scaleX(0.9091);transform-origin:left 0;-webkit-text-stroke:0.15px #d9e0e4">10.0.0.133</div><div id="m158" class="t" style="left:394.00px;top:419.00px;font-size:6.71px;color:#d9e0e4;transform:scaleX(0.9091);transform-origin:left 0;-webkit-text-stroke:0.15px #d9e0e4">5</div><div id="m159" class="t" style="left:454.60px;top:419.00px;font-size:6.71px;color:#d9e0e4;transform:scaleX(0.9091);transform-origin:left 0;-webkit-text-stroke:0.15px #d9e0e4">ap-northeast-2</div><div id="m160" class="t" style="left:516.50px;top:419.00px;font-size:6.71px;color:#d9e0e4;transform:scaleX(0.9091);transform-origin:left 0;-webkit-text-stroke:0.15px #d9e0e4">stopped</div><div id="m161" class="t" style="left:551.20px;top:419.00px;font-size:6.71px;color:#d9e0e4;transform:scaleX(0.9091);transform-origin:left 0;-webkit-text-stroke:0.15px #d9e0e4">ami-0</div><div id="m162" class="t" style="left:639.80px;top:419.00px;font-size:6.71px;color:#d9e0e4;transform:scaleX(0.9091);transform-origin:left 0;-webkit-text-stroke:0.15px #d9e0e4">2019-03-22T01:11:05.000Z</div><div class="a" style="left:145.0px;top:419.4px;width:1.5px;height:4.8px;background:#c8ccc4"></div><div class="a" style="left:146.5px;top:419.4px;width:3px;height:4.8px;background:#c8ccc4"></div><div class="a" style="left:149.5px;top:419.4px;width:4px;height:4.8px;background:#86a0ac"></div><div class="a" style="left:153.5px;top:419.4px;width:2px;height:4.8px;background:#86a0ac"></div><div class="a" style="left:155.5px;top:419.4px;width:2px;height:4.8px;background:#8ea3ad"></div><div class="a" style="left:157.5px;top:419.4px;width:3px;height:4.8px;background:#c8ccc4"></div><div class="a" style="left:160.5px;top:419.4px;width:3px;height:4.8px;background:#a3b3ba"></div><div class="a" style="left:163.5px;top:419.4px;width:1.5px;height:4.8px;background:#a3b3ba"></div><div class="a" style="left:165.0px;top:419.4px;width:4px;height:4.8px;background:#86a0ac"></div><div class="a" style="left:212.5px;top:419.0px;width:1.5px;height:5.5px;background:#56707e"></div><div class="a" style="left:214.0px;top:419.0px;width:4px;height:5.5px;background:#3d5868"></div><div class="a" style="left:218.0px;top:419.0px;width:2.5px;height:5.5px;background:#4a6575"></div><div class="a" style="left:220.5px;top:419.0px;width:2px;height:5.5px;background:#2f4a5a"></div><div class="a" style="left:222.5px;top:419.0px;width:3px;height:5.5px;background:#3d5868"></div><div class="a" style="left:225.5px;top:419.0px;width:2.5px;height:5.5px;background:#2f4a5a"></div><div class="a" style="left:228.0px;top:419.0px;width:3px;height:5.5px;background:#4a6575"></div><div class="a" style="left:231.0px;top:419.0px;width:4px;height:5.5px;background:#1e3b4e"></div><div class="a" style="left:235.0px;top:419.0px;width:3.5px;height:5.5px;background:#3d5868"></div><div class="a" style="left:238.5px;top:419.0px;width:4px;height:5.5px;background:#3d5868"></div><div class="a" style="left:242.5px;top:419.0px;width:3.5px;height:5.5px;background:#3d5868"></div><div class="a" style="left:246.0px;top:419.0px;width:3px;height:5.5px;background:#3d5868"></div><div class="a" style="left:249.0px;top:419.0px;width:1.5px;height:5.5px;background:#4a6575"></div><div class="a" style="left:250.5px;top:419.0px;width:2px;height:5.5px;background:#2f4a5a"></div><div class="a" style="left:252.5px;top:419.0px;width:2px;height:5.5px;background:#1e3b4e"></div><div class="a" style="left:254.5px;top:419.0px;width:2px;height:5.5px;background:#4a6575"></div><div class="a" style="left:256.5px;top:419.0px;width:2.5px;height:5.5px;background:#56707e"></div><div class="a" style="left:399.5px;top:419.1px;width:1.5px;height:4.8px;background:#9db0b9"></div><div class="a" style="left:401.0px;top:419.1px;width:3.5px;height:4.8px;background:#c6ccc8"></div><div class="a" style="left:404.5px;top:419.1px;width:4px;height:4.8px;background:#5b7886"></div><div class="a" style="left:408.5px;top:419.1px;width:3px;height:4.8px;background:#7895a3"></div><div class="a" style="left:411.5px;top:419.1px;width:3px;height:4.8px;background:#a9b8bf"></div><div class="a" style="left:414.5px;top:419.1px;width:1.5px;height:4.8px;background:#9db0b9"></div><div class="a" style="left:416.0px;top:419.1px;width:3px;height:4.8px;background:#9db0b9"></div><div class="a" style="left:419.0px;top:419.1px;width:2px;height:4.8px;background:#3c6a8a"></div><div class="a" style="left:421.0px;top:419.1px;width:1.5px;height:4.8px;background:#7895a3"></div><div class="a" style="left:422.5px;top:419.1px;width:3px;height:4.8px;background:#9db0b9"></div><div class="a" style="left:425.5px;top:419.1px;width:3.5px;height:4.8px;background:#6f8a96"></div><div class="a" style="left:429.0px;top:419.1px;width:1.5px;height:4.8px;background:#8ea3ad"></div><div class="a" style="left:430.5px;top:419.1px;width:1.0px;height:4.8px;background:#8ea3ad"></div><div class="a" style="left:565.5px;top:417.9px;width:1.5px;height:5px;background:#a8c4d4"></div><div class="a" style="left:571.0px;top:417.9px;width:2px;height:5px;background:#7f9070"></div><div class="a" style="left:573.0px;top:417.9px;width:3.5px;height:5px;background:#9a7a60"></div><div class="a" style="left:576.5px;top:417.9px;width:2px;height:5px;background:#6c8ca0"></div><div class="a" style="left:581.0px;top:417.9px;width:2px;height:5px;background:#5a80b0"></div><div class="a" style="left:583.0px;top:417.9px;width:1.5px;height:5px;background:#c0b870"></div><div class="a" style="left:584.5px;top:417.9px;width:2px;height:5px;background:#c0b870"></div><div class="a" style="left:586.5px;top:417.9px;width:3px;height:5px;background:#a09890"></div><div class="a" style="left:589.5px;top:417.9px;width:3px;height:5px;background:#c0b870"></div><div class="a" style="left:592.5px;top:417.9px;width:3.5px;height:5px;background:#48a0b8"></div><div class="a" style="left:596.0px;top:417.9px;width:2.5px;height:5px;background:#c0b0c8"></div><div class="a" style="left:598.5px;top:417.9px;width:3px;height:5px;background:#c0b870"></div><div class="a" style="left:601.5px;top:417.9px;width:4px;height:5px;background:#a8c4d4"></div><div class="a" style="left:605.5px;top:417.9px;width:2px;height:5px;background:#c0b870"></div><div class="a" style="left:607.5px;top:417.9px;width:1.5px;height:5px;background:#8a9aa5"></div><div class="a" style="left:609.0px;top:417.9px;width:4px;height:5px;background:#c8c4b0"></div><div class="a" style="left:613.0px;top:417.9px;width:3.5px;height:5px;background:#9a7a60"></div><div class="a" style="left:133.3px;top:426.70px;width:601.4px;height:11.6px;background:#0d2533;border-top:0.8px solid #1a3441"></div><div id="m163" class="t" style="left:136.80px;top:430.00px;font-size:6.71px;color:#d9e0e4;transform:scaleX(0.9091);transform-origin:left 0;-webkit-text-stroke:0.15px #d9e0e4">cje</div><div id="m164" class="t" style="left:197.80px;top:430.00px;font-size:6.71px;color:#d9e0e4;transform:scaleX(0.9091);transform-origin:left 0;-webkit-text-stroke:0.15px #d9e0e4">i-07e</div><div id="m165" class="t" style="left:278.50px;top:430.00px;font-size:6.71px;color:#d9e0e4;transform:scaleX(0.9091);transform-origin:left 0;-webkit-text-stroke:0.15px #d9e0e4">t2.medium</div><div id="m166" class="t" style="left:331.90px;top:430.00px;font-size:6.71px;color:#d9e0e4;transform:scaleX(0.9091);transform-origin:left 0;-webkit-text-stroke:0.15px #d9e0e4">10.0.1.51</div><div id="m167" class="t" style="left:394.00px;top:430.00px;font-size:6.71px;color:#d9e0e4;transform:scaleX(0.9091);transform-origin:left 0;-webkit-text-stroke:0.15px #d9e0e4">n</div><div id="m168" class="t" style="left:454.60px;top:430.00px;font-size:6.71px;color:#d9e0e4;transform:scaleX(0.9091);transform-origin:left 0;-webkit-text-stroke:0.15px #d9e0e4">ap-northeast-2</div><div id="m169" class="t" style="left:516.50px;top:430.00px;font-size:6.71px;color:#d9e0e4;transform:scaleX(0.9091);transform-origin:left 0;-webkit-text-stroke:0.15px #d9e0e4">stopped</div><div id="m170" class="t" style="left:551.20px;top:430.00px;font-size:6.71px;color:#d9e0e4;transform:scaleX(0.9091);transform-origin:left 0;-webkit-text-stroke:0.15px #d9e0e4">ami-4</div><div id="m171" class="t" style="left:639.80px;top:430.00px;font-size:6.71px;color:#d9e0e4;transform:scaleX(0.9091);transform-origin:left 0;-webkit-text-stroke:0.15px #d9e0e4">2019-07-31T05:39:26.000Z</div><div class="a" style="left:145.0px;top:431.0px;width:2.5px;height:4.8px;background:#86a0ac"></div><div class="a" style="left:147.5px;top:431.0px;width:4px;height:4.8px;background:#7895a3"></div><div class="a" style="left:151.5px;top:431.0px;width:3px;height:4.8px;background:#a3b3ba"></div><div class="a" style="left:154.5px;top:431.0px;width:2.5px;height:4.8px;background:#8ea3ad"></div><div class="a" style="left:157.0px;top:431.0px;width:3px;height:4.8px;background:#6f8a96"></div><div class="a" style="left:160.0px;top:431.0px;width:2.5px;height:4.8px;background:#7895a3"></div><div class="a" style="left:162.5px;top:431.0px;width:2.5px;height:4.8px;background:#c8ccc4"></div><div class="a" style="left:165.0px;top:431.0px;width:4px;height:4.8px;background:#6f8a96"></div><div class="a" style="left:212.5px;top:430.6px;width:2px;height:5.5px;background:#8fb0c8"></div><div class="a" style="left:214.5px;top:430.6px;width:3px;height:5.5px;background:#8a9aa5"></div><div class="a" style="left:217.5px;top:430.6px;width:2px;height:5.5px;background:#8a9aa5"></div><div class="a" style="left:219.5px;top:430.6px;width:1.5px;height:5.5px;background:#d8dcd8"></div><div class="a" style="left:221.0px;top:430.6px;width:2.5px;height:5.5px;background:#d8dcd8"></div><div class="a" style="left:223.5px;top:430.6px;width:3.5px;height:5.5px;background:#2a48a0"></div><div class="a" style="left:227.0px;top:430.6px;width:3.5px;height:5.5px;background:#d8dcd8"></div><div class="a" style="left:230.5px;top:430.6px;width:3.5px;height:5.5px;background:#c0b0c8"></div><div class="a" style="left:234.0px;top:430.6px;width:2px;height:5.5px;background:#5a80b0"></div><div class="a" style="left:236.0px;top:430.6px;width:4px;height:5.5px;background:#9a7a60"></div><div class="a" style="left:240.0px;top:430.6px;width:1.5px;height:5.5px;background:#c0b870"></div><div class="a" style="left:241.5px;top:430.6px;width:3px;height:5.5px;background:#b8ccd8"></div><div class="a" style="left:244.5px;top:430.6px;width:1.5px;height:5.5px;background:#d8dcd8"></div><div class="a" style="left:246.0px;top:430.6px;width:3.5px;height:5.5px;background:#c8c4b0"></div><div class="a" style="left:253.0px;top:430.6px;width:4px;height:5.5px;background:#c0b0c8"></div><div class="a" style="left:257.0px;top:430.6px;width:1.5px;height:5.5px;background:#b8ccd8"></div><div class="a" style="left:397.6px;top:430.9px;width:6.4px;height:4.8px;background:linear-gradient(90deg,#6f8fa4 0 1.5px,#a9c0cc 1.5px 3.6px,#c8cc98 3.6px 5px,#8fb0c0 5px)"></div><div class="a" style="left:565.5px;top:429.5px;width:3px;height:5px;background:#a9b8bf"></div><div class="a" style="left:568.5px;top:429.5px;width:1.5px;height:5px;background:#8ea3ad"></div><div class="a" style="left:570.0px;top:429.5px;width:1.5px;height:5px;background:#5b7886"></div><div class="a" style="left:571.5px;top:429.5px;width:2px;height:5px;background:#3c6a8a"></div><div class="a" style="left:573.5px;top:429.5px;width:3.5px;height:5px;background:#c6ccc8"></div><div class="a" style="left:577.0px;top:429.5px;width:1.5px;height:5px;background:#6f8a96"></div><div class="a" style="left:578.5px;top:429.5px;width:4px;height:5px;background:#6f8a96"></div><div class="a" style="left:582.5px;top:429.5px;width:3px;height:5px;background:#9db0b9"></div><div class="a" style="left:585.5px;top:429.5px;width:1.5px;height:5px;background:#9db0b9"></div><div class="a" style="left:587.0px;top:429.5px;width:1.5px;height:5px;background:#8ea3ad"></div><div class="a" style="left:133.3px;top:438.30px;width:601.4px;height:11.6px;background:#152d3a;border-top:0.8px solid #1a3441"></div><div id="m172" class="t" style="left:136.80px;top:442.00px;font-size:6.71px;color:#d9e0e4;transform:scaleX(0.9091);transform-origin:left 0;-webkit-text-stroke:0.15px #d9e0e4">cje</div><div id="m173" class="t" style="left:197.80px;top:442.00px;font-size:6.71px;color:#d9e0e4;transform:scaleX(0.9091);transform-origin:left 0;-webkit-text-stroke:0.15px #d9e0e4">i-033</div><div id="m174" class="t" style="left:278.50px;top:442.00px;font-size:6.71px;color:#d9e0e4;transform:scaleX(0.9091);transform-origin:left 0;-webkit-text-stroke:0.15px #d9e0e4">m4.large</div><div id="m175" class="t" style="left:331.90px;top:442.00px;font-size:6.71px;color:#d9e0e4;transform:scaleX(0.9091);transform-origin:left 0;-webkit-text-stroke:0.15px #d9e0e4">10.0.0.114</div><div id="m176" class="t" style="left:394.00px;top:442.00px;font-size:6.71px;color:#d9e0e4;transform:scaleX(0.9091);transform-origin:left 0;-webkit-text-stroke:0.15px #d9e0e4">n</div><div id="m177" class="t" style="left:454.60px;top:442.00px;font-size:6.71px;color:#d9e0e4;transform:scaleX(0.9091);transform-origin:left 0;-webkit-text-stroke:0.15px #d9e0e4">ap-northeast-2</div><div id="m178" class="t" style="left:516.50px;top:442.00px;font-size:6.71px;color:#d9e0e4;transform:scaleX(0.9091);transform-origin:left 0;-webkit-text-stroke:0.15px #d9e0e4">stopped</div><div id="m179" class="t" style="left:551.20px;top:442.00px;font-size:6.71px;color:#d9e0e4;transform:scaleX(0.9091);transform-origin:left 0;-webkit-text-stroke:0.15px #d9e0e4">ami-a</div><div id="m180" class="t" style="left:639.80px;top:442.00px;font-size:6.71px;color:#d9e0e4;transform:scaleX(0.9091);transform-origin:left 0;-webkit-text-stroke:0.15px #d9e0e4">2019-08-01T06:53:14.000Z</div><div class="a" style="left:145.0px;top:442.6px;width:2.5px;height:4.8px;background:#6f8a96"></div><div class="a" style="left:147.5px;top:442.6px;width:1.5px;height:4.8px;background:#7895a3"></div><div class="a" style="left:149.0px;top:442.6px;width:4px;height:4.8px;background:#86a0ac"></div><div class="a" style="left:153.0px;top:442.6px;width:4px;height:4.8px;background:#7895a3"></div><div class="a" style="left:157.0px;top:442.6px;width:2.5px;height:4.8px;background:#5b7886"></div><div class="a" style="left:159.5px;top:442.6px;width:1.5px;height:4.8px;background:#6f8a96"></div><div class="a" style="left:161.0px;top:442.6px;width:2px;height:4.8px;background:#5b7886"></div><div class="a" style="left:163.0px;top:442.6px;width:4px;height:4.8px;background:#a3b3ba"></div><div class="a" style="left:167.0px;top:442.6px;width:2.5px;height:4.8px;background:#5b7886"></div><div class="a" style="left:212.5px;top:442.2px;width:3px;height:5.5px;background:#5b7886"></div><div class="a" style="left:215.5px;top:442.2px;width:3px;height:5.5px;background:#9db0b9"></div><div class="a" style="left:218.5px;top:442.2px;width:3px;height:5.5px;background:#6f8a96"></div><div class="a" style="left:221.5px;top:442.2px;width:1.5px;height:5.5px;background:#5b7886"></div><div class="a" style="left:223.0px;top:442.2px;width:3.5px;height:5.5px;background:#5b7886"></div><div class="a" style="left:226.5px;top:442.2px;width:3px;height:5.5px;background:#8ea3ad"></div><div class="a" style="left:229.5px;top:442.2px;width:3.5px;height:5.5px;background:#a9b8bf"></div><div class="a" style="left:233.0px;top:442.2px;width:1.5px;height:5.5px;background:#8ea3ad"></div><div class="a" style="left:234.5px;top:442.2px;width:3.5px;height:5.5px;background:#7895a3"></div><div class="a" style="left:238.0px;top:442.2px;width:2px;height:5.5px;background:#6f8a96"></div><div class="a" style="left:240.0px;top:442.2px;width:1.5px;height:5.5px;background:#6f8a96"></div><div class="a" style="left:241.5px;top:442.2px;width:4px;height:5.5px;background:#6f8a96"></div><div class="a" style="left:245.5px;top:442.2px;width:1.5px;height:5.5px;background:#7895a3"></div><div class="a" style="left:247.0px;top:442.2px;width:2px;height:5.5px;background:#8ea3ad"></div><div class="a" style="left:253.0px;top:442.2px;width:1.5px;height:5.5px;background:#5b7886"></div><div class="a" style="left:254.5px;top:442.2px;width:1.5px;height:5.5px;background:#8ea3ad"></div><div class="a" style="left:256.0px;top:442.2px;width:3.0px;height:5.5px;background:#9db0b9"></div><div class="a" style="left:397.6px;top:442.5px;width:6.4px;height:4.8px;background:linear-gradient(90deg,#6f8fa4 0 1.5px,#a9c0cc 1.5px 3.6px,#c8cc98 3.6px 5px,#8fb0c0 5px)"></div><div class="a" style="left:565.5px;top:441.1px;width:1.5px;height:5px;background:#d0ccb8"></div><div class="a" style="left:567.0px;top:441.1px;width:2.5px;height:5px;background:#8fb0c8"></div><div class="a" style="left:569.5px;top:441.1px;width:2.5px;height:5px;background:#c0b870"></div><div class="a" style="left:572.0px;top:441.1px;width:2.5px;height:5px;background:#d8dcd8"></div><div class="a" style="left:574.5px;top:441.1px;width:2.5px;height:5px;background:#a09890"></div><div class="a" style="left:577.0px;top:441.1px;width:3px;height:5px;background:#b8ccd8"></div><div class="a" style="left:580.0px;top:441.1px;width:3px;height:5px;background:#a09890"></div><div class="a" style="left:583.0px;top:441.1px;width:1.5px;height:5px;background:#8a9aa5"></div><div class="a" style="left:584.5px;top:441.1px;width:3.5px;height:5px;background:#7f9070"></div><div class="a" style="left:588.0px;top:441.1px;width:2.5px;height:5px;background:#c0b0c8"></div><div class="a" style="left:133.3px;top:449.90px;width:601.4px;height:11.6px;background:#0d2533;border-top:0.8px solid #1a3441"></div><div id="m181" class="t" style="left:136.80px;top:453.00px;font-size:6.71px;color:#d9e0e4;transform:scaleX(0.9091);transform-origin:left 0;-webkit-text-stroke:0.15px #d9e0e4">cje</div><div id="m182" class="t" style="left:197.80px;top:453.00px;font-size:6.71px;color:#d9e0e4;transform:scaleX(0.9091);transform-origin:left 0;-webkit-text-stroke:0.15px #d9e0e4">i-0d0</div><div id="m183" class="t" style="left:278.50px;top:453.00px;font-size:6.71px;color:#d9e0e4;transform:scaleX(0.9091);transform-origin:left 0;-webkit-text-stroke:0.15px #d9e0e4">t2.medium</div><div id="m184" class="t" style="left:331.90px;top:453.00px;font-size:6.71px;color:#d9e0e4;transform:scaleX(0.9091);transform-origin:left 0;-webkit-text-stroke:0.15px #d9e0e4">10.0.0.187</div><div id="m185" class="t" style="left:394.00px;top:453.00px;font-size:6.71px;color:#d9e0e4;transform:scaleX(0.9091);transform-origin:left 0;-webkit-text-stroke:0.15px #d9e0e4">n</div><div id="m186" class="t" style="left:454.60px;top:453.00px;font-size:6.71px;color:#d9e0e4;transform:scaleX(0.9091);transform-origin:left 0;-webkit-text-stroke:0.15px #d9e0e4">ap-northeast-2</div><div id="m187" class="t" style="left:516.50px;top:453.00px;font-size:6.71px;color:#d9e0e4;transform:scaleX(0.9091);transform-origin:left 0;-webkit-text-stroke:0.15px #d9e0e4">stopped</div><div id="m188" class="t" style="left:551.20px;top:453.00px;font-size:6.71px;color:#d9e0e4;transform:scaleX(0.9091);transform-origin:left 0;-webkit-text-stroke:0.15px #d9e0e4">ami-3</div><div id="m189" class="t" style="left:639.80px;top:453.00px;font-size:6.71px;color:#d9e0e4;transform:scaleX(0.9091);transform-origin:left 0;-webkit-text-stroke:0.15px #d9e0e4">2019-09-05T08:24:17.000Z</div><div class="a" style="left:145.0px;top:454.2px;width:3px;height:4.8px;background:#5b7886"></div><div class="a" style="left:148.0px;top:454.2px;width:2.5px;height:4.8px;background:#6f8a96"></div><div class="a" style="left:150.5px;top:454.2px;width:1.5px;height:4.8px;background:#8ea3ad"></div><div class="a" style="left:152.0px;top:454.2px;width:3px;height:4.8px;background:#a3b3ba"></div><div class="a" style="left:155.0px;top:454.2px;width:3px;height:4.8px;background:#7895a3"></div><div class="a" style="left:158.0px;top:454.2px;width:3.5px;height:4.8px;background:#7895a3"></div><div class="a" style="left:161.5px;top:454.2px;width:2px;height:4.8px;background:#5b7886"></div><div class="a" style="left:163.5px;top:454.2px;width:3px;height:4.8px;background:#8ea3ad"></div><div class="a" style="left:166.5px;top:454.2px;width:3px;height:4.8px;background:#8ea3ad"></div><div class="a" style="left:212.5px;top:453.8px;width:4px;height:5.5px;background:#9a7a60"></div><div class="a" style="left:216.5px;top:453.8px;width:3px;height:5.5px;background:#7f9070"></div><div class="a" style="left:219.5px;top:453.8px;width:3px;height:5.5px;background:#b8ccd8"></div><div class="a" style="left:222.5px;top:453.8px;width:2.5px;height:5.5px;background:#c0b870"></div><div class="a" style="left:225.0px;top:453.8px;width:3px;height:5.5px;background:#a09890"></div><div class="a" style="left:228.0px;top:453.8px;width:2px;height:5.5px;background:#5a80b0"></div><div class="a" style="left:230.0px;top:453.8px;width:3px;height:5.5px;background:#8a9aa5"></div><div class="a" style="left:233.0px;top:453.8px;width:2.5px;height:5.5px;background:#a09890"></div><div class="a" style="left:235.5px;top:453.8px;width:2px;height:5.5px;background:#c8c4b0"></div><div class="a" style="left:237.5px;top:453.8px;width:4px;height:5.5px;background:#48a0b8"></div><div class="a" style="left:241.5px;top:453.8px;width:2px;height:5.5px;background:#c0b870"></div><div class="a" style="left:243.5px;top:453.8px;width:3.5px;height:5.5px;background:#48a0b8"></div><div class="a" style="left:247.0px;top:453.8px;width:3px;height:5.5px;background:#5a80b0"></div><div class="a" style="left:250.0px;top:453.8px;width:3.5px;height:5.5px;background:#2a48a0"></div><div class="a" style="left:253.5px;top:453.8px;width:4px;height:5.5px;background:#b0c0b0"></div><div class="a" style="left:257.5px;top:453.8px;width:1.5px;height:5.5px;background:#5a80b0"></div><div class="a" style="left:398px;top:454.4px;width:5px;height:4.5px;background:#22404f"></div><div class="a" style="left:565.5px;top:452.7px;width:4px;height:5px;background:#7895a3"></div><div class="a" style="left:569.5px;top:452.7px;width:2px;height:5px;background:#5b7886"></div><div class="a" style="left:580.0px;top:452.7px;width:1.5px;height:5px;background:#a9b8bf"></div><div class="a" style="left:581.5px;top:452.7px;width:2px;height:5px;background:#c6ccc8"></div><div class="a" style="left:583.5px;top:452.7px;width:3px;height:5px;background:#8ea3ad"></div><div class="a" style="left:586.5px;top:452.7px;width:2.0px;height:5px;background:#c6ccc8"></div><div class="a" style="left:133.3px;top:461.50px;width:601.4px;height:11.6px;background:#152d3a;border-top:0.8px solid #1a3441"></div><div id="m190" class="t" style="left:136.80px;top:465.00px;font-size:6.71px;color:#d9e0e4;transform:scaleX(0.9091);transform-origin:left 0;-webkit-text-stroke:0.15px #d9e0e4">cje</div><div id="m191" class="t" style="left:197.80px;top:465.00px;font-size:6.71px;color:#d9e0e4;transform:scaleX(0.9091);transform-origin:left 0;-webkit-text-stroke:0.15px #d9e0e4">i-0fb</div><div id="m192" class="t" style="left:278.50px;top:465.00px;font-size:6.71px;color:#d9e0e4;transform:scaleX(0.9091);transform-origin:left 0;-webkit-text-stroke:0.15px #d9e0e4">t2.large</div><div id="m193" class="t" style="left:331.90px;top:465.00px;font-size:6.71px;color:#d9e0e4;transform:scaleX(0.9091);transform-origin:left 0;-webkit-text-stroke:0.15px #d9e0e4">10.0.1.127</div><div id="m194" class="t" style="left:394.00px;top:465.00px;font-size:6.71px;color:#d9e0e4;transform:scaleX(0.9091);transform-origin:left 0;-webkit-text-stroke:0.15px #d9e0e4">n</div><div id="m195" class="t" style="left:454.60px;top:465.00px;font-size:6.71px;color:#d9e0e4;transform:scaleX(0.9091);transform-origin:left 0;-webkit-text-stroke:0.15px #d9e0e4">ap-northeast-2</div><div id="m196" class="t" style="left:516.50px;top:465.00px;font-size:6.71px;color:#d9e0e4;transform:scaleX(0.9091);transform-origin:left 0;-webkit-text-stroke:0.15px #d9e0e4">stopped</div><div id="m197" class="t" style="left:551.20px;top:465.00px;font-size:6.71px;color:#d9e0e4;transform:scaleX(0.9091);transform-origin:left 0;-webkit-text-stroke:0.15px #d9e0e4">ami-0</div><div id="m198" class="t" style="left:639.80px;top:465.00px;font-size:6.71px;color:#d9e0e4;transform:scaleX(0.9091);transform-origin:left 0;-webkit-text-stroke:0.15px #d9e0e4">2019-09-09T05:22:38.000Z</div><div class="a" style="left:145.0px;top:465.8px;width:2px;height:4.8px;background:#4f7080"></div><div class="a" style="left:147.0px;top:465.8px;width:1.5px;height:4.8px;background:#86a0ac"></div><div class="a" style="left:148.5px;top:465.8px;width:4px;height:4.8px;background:#7895a3"></div><div class="a" style="left:152.5px;top:465.8px;width:3px;height:4.8px;background:#7895a3"></div><div class="a" style="left:155.5px;top:465.8px;width:3.5px;height:4.8px;background:#6f8a96"></div><div class="a" style="left:159.0px;top:465.8px;width:4px;height:4.8px;background:#86a0ac"></div><div class="a" style="left:163.0px;top:465.8px;width:4px;height:4.8px;background:#86a0ac"></div><div class="a" style="left:167.0px;top:465.8px;width:2px;height:4.8px;background:#5b7886"></div><div class="a" style="left:212.5px;top:465.4px;width:4px;height:5.5px;background:#9a7a60"></div><div class="a" style="left:216.5px;top:465.4px;width:3px;height:5.5px;background:#c0b870"></div><div class="a" style="left:219.5px;top:465.4px;width:4px;height:5.5px;background:#8fb0c8"></div><div class="a" style="left:223.5px;top:465.4px;width:2px;height:5.5px;background:#c0b0c8"></div><div class="a" style="left:225.5px;top:465.4px;width:2.5px;height:5.5px;background:#6c8ca0"></div><div class="a" style="left:228.0px;top:465.4px;width:3px;height:5.5px;background:#8fb0c8"></div><div class="a" style="left:231.0px;top:465.4px;width:3.5px;height:5.5px;background:#c0b0c8"></div><div class="a" style="left:234.5px;top:465.4px;width:4px;height:5.5px;background:#b8ccd8"></div><div class="a" style="left:238.5px;top:465.4px;width:3px;height:5.5px;background:#9a7a60"></div><div class="a" style="left:241.5px;top:465.4px;width:1.5px;height:5.5px;background:#d0ccb8"></div><div class="a" style="left:243.0px;top:465.4px;width:2px;height:5.5px;background:#d0ccb8"></div><div class="a" style="left:245.0px;top:465.4px;width:3.5px;height:5.5px;background:#c8c4b0"></div><div class="a" style="left:248.5px;top:465.4px;width:3.5px;height:5.5px;background:#6c8ca0"></div><div class="a" style="left:252.0px;top:465.4px;width:3.5px;height:5.5px;background:#d8dcd8"></div><div class="a" style="left:255.5px;top:465.4px;width:3.5px;height:5.5px;background:#c8c4b0"></div><div class="a" style="left:397.6px;top:465.7px;width:6.4px;height:4.8px;background:linear-gradient(90deg,#6f8fa4 0 1.5px,#a9c0cc 1.5px 3.6px,#c8cc98 3.6px 5px,#8fb0c0 5px)"></div><div class="a" style="left:567.5px;top:464.3px;width:2px;height:5px;background:#9a7a60"></div><div class="a" style="left:573.5px;top:464.3px;width:2.5px;height:5px;background:#c0b870"></div><div class="a" style="left:576.0px;top:464.3px;width:2.5px;height:5px;background:#8a9aa5"></div><div class="a" style="left:578.5px;top:464.3px;width:1.5px;height:5px;background:#8fb0c8"></div><div class="a" style="left:580.0px;top:464.3px;width:4px;height:5px;background:#d8dcd8"></div><div class="a" style="left:584.0px;top:464.3px;width:3.5px;height:5px;background:#5a80b0"></div><div class="a" style="left:587.5px;top:464.3px;width:2.5px;height:5px;background:#a09890"></div><div class="a" style="left:592.0px;top:464.3px;width:3px;height:5px;background:#c0b0c8"></div><div class="a" style="left:595.0px;top:464.3px;width:2px;height:5px;background:#7f9070"></div><div class="a" style="left:597.0px;top:464.3px;width:4px;height:5px;background:#5a80b0"></div><div class="a" style="left:601.0px;top:464.3px;width:2px;height:5px;background:#8fb0c8"></div><div class="a" style="left:606.0px;top:464.3px;width:3.5px;height:5px;background:#6c8ca0"></div><div class="a" style="left:609.5px;top:464.3px;width:2.5px;height:5px;background:#5a80b0"></div><div class="a" style="left:612.0px;top:464.3px;width:2.5px;height:5px;background:#c0b870"></div><div class="a" style="left:614.5px;top:464.3px;width:2.0px;height:5px;background:#6c8ca0"></div><svg class="a" style="left:0;top:0" width="1024" height="577"><rect x="193.0" y="311" width="1" height="162.1" fill="#1a3441"/><rect x="273.7" y="311" width="1" height="162.1" fill="#1a3441"/><rect x="327.1" y="311" width="1" height="162.1" fill="#1a3441"/><rect x="389.2" y="311" width="1" height="162.1" fill="#1a3441"/><rect x="449.8" y="311" width="1" height="162.1" fill="#1a3441"/><rect x="511.70000000000005" y="311" width="1" height="162.1" fill="#1a3441"/><rect x="546.4" y="311" width="1" height="162.1" fill="#1a3441"/><rect x="635.0" y="311" width="1" height="162.1" fill="#1a3441"/></svg><div class="a" style="left:627.8px;top:322.8px;width:1.2px;height:148px;background:#f0f0f0"></div><div class="a" style="left:566px;top:469.8px;width:63px;height:1.2px;background:#f0f0f0"></div></body></html>
